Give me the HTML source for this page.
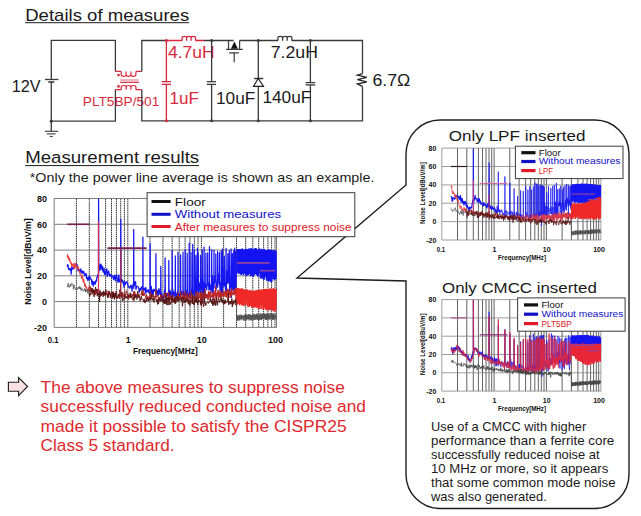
<!DOCTYPE html>
<html><head><meta charset="utf-8"><style>
html,body{margin:0;padding:0;background:#fff;overflow:hidden}
svg{display:block;font-family:"Liberation Sans",sans-serif}
</style></head><body>
<svg width="641" height="516" viewBox="0 0 641 516">
<rect width="641" height="516" fill="#fff"/>
<text x="25.2" y="20.6" font-size="17" fill="#1a1a1a" textLength="164.0" lengthAdjust="spacingAndGlyphs">Details of measures</text>
<line x1="25.10" y1="22.70" x2="189.20" y2="22.70" stroke="#1a1a1a" stroke-width="1.0" />
<path d="M115.4,71.5 V40.3 H51.3 V79.5 M51.3,82 V121.2 H115.4 V89.8" fill="none" stroke="#3a3a3a" stroke-width="1.3"/>
<line x1="45.00" y1="79.50" x2="58.40" y2="79.50" stroke="#3a3a3a" stroke-width="1.3" />
<line x1="48.30" y1="82.00" x2="54.30" y2="82.00" stroke="#3a3a3a" stroke-width="1.6" />
<text x="11.8" y="92.0" font-size="16.3" fill="#1a1a1a" textLength="28.8" lengthAdjust="spacingAndGlyphs">12V</text>
<line x1="51.30" y1="121.20" x2="51.30" y2="131.30" stroke="#3a3a3a" stroke-width="1.3" />
<line x1="44.80" y1="131.30" x2="58.20" y2="131.30" stroke="#3a3a3a" stroke-width="1.1" />
<line x1="46.80" y1="133.90" x2="55.60" y2="133.90" stroke="#3a3a3a" stroke-width="1.1" />
<line x1="49.90" y1="136.50" x2="52.70" y2="136.50" stroke="#3a3a3a" stroke-width="1.1" />
<circle cx="51.3" cy="121.2" r="1.6" fill="#3a3a3a"/>
<path d="M115.4,71.4 H121.2 M135.9,71.4 H141.8 M115.4,89.7 H121.2 M135.9,89.7 H141.8" fill="none" stroke="#d8283a" stroke-width="1.2"/>
<path d=" M121.20,71.40 V74.50 Q121.20,76.30 123.65,76.30 Q126.10,76.30 126.10,74.50 V71.40 M126.10,71.40 V74.50 Q126.10,76.30 128.55,76.30 Q131.00,76.30 131.00,74.50 V71.40 M131.00,71.40 V74.50 Q131.00,76.30 133.45,76.30 Q135.90,76.30 135.90,74.50 V71.40" fill="none" stroke="#d8283a" stroke-width="1.2"/>
<path d=" M121.20,89.70 V87.30 Q121.20,85.50 123.65,85.50 Q126.10,85.50 126.10,87.30 V89.70 M126.10,89.70 V87.30 Q126.10,85.50 128.55,85.50 Q131.00,85.50 131.00,87.30 V89.70 M131.00,89.70 V87.30 Q131.00,85.50 133.45,85.50 Q135.90,85.50 135.90,87.30 V89.70" fill="none" stroke="#d8283a" stroke-width="1.2"/>
<line x1="120.10" y1="80.00" x2="138.80" y2="80.00" stroke="#e27a8a" stroke-width="1.1" />
<line x1="120.10" y1="82.30" x2="138.80" y2="82.30" stroke="#d02838" stroke-width="1.2" />
<circle cx="118.5" cy="75.1" r="1.3" fill="#d8283a"/><circle cx="118.5" cy="86.4" r="1.3" fill="#d8283a"/>
<text x="82.8" y="106.2" font-size="12.3" fill="#d8283a" textLength="76.5" lengthAdjust="spacingAndGlyphs">PLT5BP/501</text>
<path d="M141.8,71.5 V40.5 H166.4" fill="none" stroke="#3a3a3a" stroke-width="1.3"/>
<path d="M141.8,89.8 V120.8 H362.5 V86.4 M362.5,73.6 V40.5 H291.9 M277.9,40.5 H239.6 M233.6,40.5 H204" fill="none" stroke="#3a3a3a" stroke-width="1.3"/>
<path d="M166.4,40.5 V81.7 M166.4,84.4 V120.8 M166.4,40.5 H182.1 M195.6,40.5 H204" fill="none" stroke="#d8283a" stroke-width="1.3"/>
<path d="M182.1,40.5 M182.1,40.8 V37.9 Q182.1,36.3 184.3,36.3 Q186.6,36.3 186.6,37.9 V40.8 M186.6,40.8 V37.9 Q186.6,36.3 188.8,36.3 Q191.1,36.3 191.1,37.9 V40.8 M191.1,40.8 V37.9 Q191.1,36.3 193.3,36.3 Q195.6,36.3 195.6,37.9 V40.8" fill="none" stroke="#d8283a" stroke-width="1.3"/>
<line x1="161.60" y1="81.70" x2="171.00" y2="81.70" stroke="#d8283a" stroke-width="1.3" />
<line x1="161.60" y1="84.40" x2="171.00" y2="84.40" stroke="#d8283a" stroke-width="1.3" />
<circle cx="166.4" cy="40.5" r="1.5" fill="#d8283a"/><circle cx="166.4" cy="120.8" r="1.5" fill="#d8283a"/>
<text x="167.9" y="57.7" font-size="16" fill="#d8283a" textLength="46.8" lengthAdjust="spacingAndGlyphs">4.7uH</text>
<text x="169.6" y="103.6" font-size="16" fill="#d8283a" textLength="29.4" lengthAdjust="spacingAndGlyphs">1uF</text>
<path d="M211.6,40.5 V81.7 M211.6,84.4 V120.8" fill="none" stroke="#3a3a3a" stroke-width="1.3"/>
<line x1="206.80" y1="81.70" x2="216.00" y2="81.70" stroke="#3a3a3a" stroke-width="1.3" />
<line x1="206.80" y1="84.40" x2="216.00" y2="84.40" stroke="#3a3a3a" stroke-width="1.3" />
<circle cx="211.6" cy="40.5" r="1.5" fill="#3a3a3a"/><circle cx="211.6" cy="120.8" r="1.5" fill="#3a3a3a"/>
<text x="216.0" y="103.6" font-size="16" fill="#1a1a1a" textLength="39.2" lengthAdjust="spacingAndGlyphs">10uF</text>
<path d="M228.5,40.5 V49 M239.6,40.5 V49 M226,49.3 H242.8 M229.2,52.9 H238.9 M234.2,52.9 V62.3" fill="none" stroke="#3a3a3a" stroke-width="1.2"/>
<path d="M234.4,41.4 L230.9,48.7 H237.9 Z" fill="#111"/>
<path d="M258.3,40.5 V78.5 M258.3,86.3 V120.8 M254.1,78.5 H263.3" fill="none" stroke="#3a3a3a" stroke-width="1.3"/>
<path d="M258.3,78.5 L253.5,86.3 H263.5 Z" fill="none" stroke="#222" stroke-width="1.2"/>
<circle cx="258.3" cy="40.5" r="1.5" fill="#3a3a3a"/><circle cx="258.3" cy="120.8" r="1.5" fill="#3a3a3a"/>
<path d="M277.9,40.5 M277.9,40.8 V37.9 Q277.9,36.3 280.2,36.3 Q282.6,36.3 282.6,37.9 V40.8 M282.6,40.8 V37.9 Q282.6,36.3 284.9,36.3 Q287.2,36.3 287.2,37.9 V40.8 M287.2,40.8 V37.9 Q287.2,36.3 289.6,36.3 Q291.9,36.3 291.9,37.9 V40.8" fill="none" stroke="#3a3a3a" stroke-width="1.3"/>
<text x="270.8" y="57.7" font-size="16" fill="#1a1a1a" textLength="47.1" lengthAdjust="spacingAndGlyphs">7.2uH</text>
<path d="M310.4,40.5 V82.6 M310.4,84.9 V120.8" fill="none" stroke="#3a3a3a" stroke-width="1.3"/>
<line x1="305.60" y1="82.60" x2="315.20" y2="82.60" stroke="#3a3a3a" stroke-width="1.3" />
<line x1="305.60" y1="84.90" x2="315.20" y2="84.90" stroke="#3a3a3a" stroke-width="1.3" />
<circle cx="310.4" cy="40.5" r="1.5" fill="#3a3a3a"/><circle cx="310.4" cy="120.8" r="1.5" fill="#3a3a3a"/>
<text x="262.4" y="103.3" font-size="15.8" fill="#1a1a1a" textLength="49.0" lengthAdjust="spacingAndGlyphs">140uF</text>
<path d="M362.5,73.6 L357.4,75.2 L366.8,77.4 L357.4,79.6 L366.8,81.8 L357.4,84 L362.5,86.4" fill="none" stroke="#222" stroke-width="1.3"/>
<text x="372.4" y="86.3" font-size="15.6" fill="#1a1a1a" textLength="38.0" lengthAdjust="spacingAndGlyphs">6.7Ω</text>
<path d="M406,185 V154 A34,34 0 0 1 440,120 H595 A34,34 0 0 1 629,154 V474.5 A34,34 0 0 1 595,508.5 H440 A34,34 0 0 1 406,474.5 V281 L297,278 L406,185 Z" fill="#fff" stroke="#1e1e1e" stroke-width="1.4" stroke-linejoin="miter"/>
<text x="25.2" y="163.4" font-size="16.3" fill="#1a1a1a" textLength="174.0" lengthAdjust="spacingAndGlyphs">Measurement results</text>
<line x1="25.20" y1="165.60" x2="199.00" y2="165.60" stroke="#1a1a1a" stroke-width="1.0" />
<text x="29.8" y="182.4" font-size="13.1" fill="#1a1a1a" textLength="344.6" lengthAdjust="spacingAndGlyphs">*Only the power line average is shown as an example.</text>
<path d="M76.4,198.5V327.4M89.3,198.5V327.4M98.5,198.5V327.4M105.6,198.5V327.4M111.5,198.5V327.4M116.4,198.5V327.4M120.7,198.5V327.4M124.4,198.5V327.4M150.0,198.5V327.4M162.9,198.5V327.4M172.1,198.5V327.4M179.2,198.5V327.4M185.1,198.5V327.4M190.0,198.5V327.4M194.3,198.5V327.4M198.0,198.5V327.4M223.6,198.5V327.4M236.5,198.5V327.4M245.7,198.5V327.4M252.8,198.5V327.4M258.7,198.5V327.4M263.6,198.5V327.4M267.9,198.5V327.4M271.6,198.5V327.4M127.8,198.5V327.4M201.4,198.5V327.4M275.0,198.5V327.4" stroke="#2c2c2c" stroke-width="0.95" stroke-dasharray="1.6,0.6" fill="none"/>
<path d="M54.2,301.6H276.5M54.2,275.8H276.5M54.2,250.1H276.5M54.2,224.3H276.5M54.2,198.5H276.5" stroke="#7c7c7c" stroke-width="1.0" fill="none"/>
<path d="M54.2,198.5V327.4H276.5V198.5" stroke="#7c7c7c" stroke-width="1.0" fill="none"/>
<path d="M67.2,266.8L67.6,264.6 68.1,265.3 68.5,269.1 69.0,269.1 69.4,270.0 69.9,268.3 70.3,270.0 70.8,268.9 71.2,274.2 71.7,267.0 72.1,269.7 72.6,267.6 73.0,268.7 73.5,268.6 73.9,266.4 74.4,265.1 74.8,266.5 75.3,265.9 75.7,263.7 76.2,266.2 76.6,267.6 77.1,264.7 77.5,267.5 78.0,270.7 78.4,269.3 78.9,269.4 79.3,271.5 79.8,272.6 80.2,270.1 80.7,268.9 81.1,271.5 81.6,272.9 82.0,271.1 82.5,270.9 82.9,273.3 83.4,272.1 83.8,271.5 84.3,274.3 84.7,275.9 85.2,274.1 85.6,274.7 86.1,273.4 86.5,278.4 87.0,277.6 87.4,278.4 87.9,280.5 88.3,277.3 88.8,276.9 89.2,279.8 89.7,276.2 90.1,277.8 90.6,278.8 91.0,279.8 91.5,279.3 91.9,284.3 92.4,281.1 92.8,281.3 93.3,286.1 93.7,282.2 94.2,283.6 94.6,281.8 95.1,284.4 95.5,282.5 96.0,280.4 96.4,281.4 96.9,277.2 97.3,277.2 97.8,274.7 98.2,275.2 98.5,273.2 98.6,199.0 98.8,272.0 98.7,273.0 99.1,270.0 99.6,267.3 100.0,264.8 100.5,269.8 100.9,264.0 101.4,265.6 101.8,267.5 102.3,270.1 102.7,266.5 103.2,272.2 103.6,269.5 104.1,268.4 104.5,274.3 105.0,272.1 105.4,274.4 105.9,271.7 106.3,269.5 106.8,268.8 107.2,276.5 107.7,274.4 108.1,272.3 108.6,270.9 109.0,273.4 109.5,276.0 109.9,274.2 110.4,275.1 110.8,275.8 111.3,277.1 111.7,275.2 112.2,275.6 112.6,276.7 113.1,277.2 113.5,279.5 114.0,278.2 114.4,275.2 114.9,278.1 115.3,280.8 115.8,275.7 116.2,277.5 116.7,274.7 117.1,278.9 117.6,280.1 118.0,282.3 118.5,277.2 118.9,275.0 119.4,281.9 119.8,281.8 120.3,279.6 120.7,281.0 120.8,219.4 121.0,281.5 120.7,281.7 121.2,280.9 121.6,279.4 122.1,281.7 122.5,280.2 123.0,283.1 123.4,281.8 123.9,286.9 124.3,285.8 124.8,281.7 125.2,284.6 125.7,282.6 126.1,282.9 126.6,281.6 127.0,282.9 127.5,282.7 127.9,285.2 128.4,286.8 128.8,287.1 129.3,286.6 129.7,288.3 130.2,287.0 130.6,285.9 131.1,285.2 131.5,286.8 132.0,291.1 132.4,286.4 132.9,285.8 133.3,283.7 133.6,286.6 133.7,229.6 133.9,288.3 133.8,288.5 134.2,281.6 134.7,285.0 135.1,282.3 135.6,281.7 136.0,289.4 136.5,286.5 136.9,286.4 137.4,286.3 137.8,286.5 138.3,287.5 138.7,287.7 139.2,292.1 139.6,288.8 140.1,290.4 140.5,288.3 141.0,290.0 141.4,287.3 141.9,286.8 142.3,288.3 142.8,288.3 142.8,289.2 142.9,237.0 143.1,290.3 143.2,289.7 143.7,290.6 144.1,288.4 144.6,289.5 145.0,288.1 145.5,293.1 145.9,287.5 146.4,291.9 146.8,291.9 147.3,290.6 147.7,291.6 148.2,289.5 148.6,291.9 149.1,293.2 149.5,292.8 150.0,290.7 150.1,243.7 150.3,290.5 150.0,293.7 150.4,290.8 150.9,294.9 151.3,286.4 151.8,295.0 152.2,290.0 152.7,289.9 153.1,295.2 153.6,290.8 154.0,289.1 154.5,290.6 154.9,291.2 155.4,289.6 155.8,292.1 155.9,253.6 156.1,291.2 155.8,292.4 156.3,290.6 156.7,294.8 157.2,290.4 157.6,293.9 158.1,295.5 158.5,291.8 159.0,288.5 159.4,290.5 159.9,294.5 160.3,291.4 160.7,293.3 160.8,266.4 161.0,293.7 160.8,293.1 161.2,299.4 161.7,293.1 162.1,296.3 162.6,295.6 163.0,297.7 163.5,297.9 163.9,296.5 164.4,292.0 164.8,289.9 165.0,294.2 165.1,257.8 165.3,291.4 165.3,294.9 165.7,299.2 166.2,294.0 166.6,293.3 167.1,295.6 167.5,293.8 168.0,293.1 168.4,296.9 168.7,294.7 168.8,260.6 169.0,295.3 168.9,295.3 169.3,295.7 169.8,292.3 170.2,290.5 170.7,296.0 171.1,293.2 171.6,292.7 172.0,293.3 172.1,295.2 172.2,250.6 172.4,296.2 172.5,293.3 172.9,289.9 173.4,293.0 173.8,296.7 174.3,293.5 174.7,291.8 175.2,295.0 175.3,255.8 175.5,296.5 175.2,291.0 175.6,298.2 176.1,293.7 176.5,295.0 177.0,298.0 177.4,291.8 177.9,294.0 177.9,294.9 178.0,252.3 178.2,293.3 178.3,296.0 178.8,299.7 179.2,296.6 179.7,294.1 180.1,293.1 180.5,294.8 180.6,254.9 180.8,294.6 180.6,293.5 181.0,295.3 181.5,291.7 181.9,294.3 182.4,293.9 182.8,293.2 182.9,294.6 183.0,252.1 183.2,296.5 183.3,290.7 183.7,293.7 184.2,295.3 184.6,293.7 185.1,295.8 185.1,294.5 185.2,249.5 185.4,296.2 185.5,293.7 186.0,298.4 186.4,290.8 186.9,295.5 187.1,294.1 187.2,253.1 187.4,294.7 187.3,295.0 187.8,293.6 188.2,296.8 188.7,292.8 189.1,293.7 189.2,243.1 189.4,297.0 189.1,292.8 189.6,294.4 190.0,293.0 190.5,298.1 190.9,293.3 191.0,252.3 191.2,292.1 190.9,293.4 191.4,289.0 191.8,294.9 192.3,292.6 192.6,292.9 192.7,244.4 192.9,294.9 192.7,295.3 193.2,292.9 193.6,292.9 194.1,290.5 194.3,292.6 194.4,249.8 194.6,297.0 194.5,291.2 195.0,276.9 195.4,284.6 195.8,291.8 195.9,255.4 196.1,292.6 195.9,296.8 196.3,287.9 196.8,292.3 197.2,279.8 197.3,290.9 197.4,248.3 197.6,285.8 197.7,289.7 198.1,290.7 198.2,252.8 198.4,283.0 198.6,292.3 199.0,282.6 199.5,288.7 199.9,290.0 200.4,293.9 200.5,255.4 200.6,293.0 200.8,277.2 201.3,282.9 201.7,285.4 202.2,289.7 202.3,249.9 202.4,286.0 202.6,302.7 203.1,289.6 203.5,285.0 204.0,278.6 204.1,247.1 204.2,279.7 204.4,300.6 204.9,284.4 205.3,287.4 205.8,281.8 205.9,253.1 206.0,286.2 206.2,284.7 206.7,289.7 207.1,285.0 207.6,284.2 207.7,252.8 207.8,285.1 208.0,282.4 208.5,283.7 208.9,289.7 209.4,289.8 209.5,246.5 209.6,286.9 209.8,283.9 210.3,289.4 210.7,290.3 211.2,285.1 211.6,284.2 211.7,249.8 211.9,293.0 212.1,286.1 212.5,276.1 213.0,299.0 213.4,282.6 213.9,288.1 214.0,250.0 214.1,287.9 214.3,275.8 214.8,282.2 215.2,281.4 215.7,281.7 215.8,253.8 215.9,280.5 216.1,289.9 216.6,284.2 217.0,285.4 217.5,278.2 217.6,251.5 217.7,287.3 217.9,276.4 218.4,274.2 218.8,278.7 219.3,283.6 219.4,252.7 219.5,284.8 219.7,281.8 220.2,292.9 220.6,282.5 221.1,292.1 221.2,250.8 221.3,290.6 221.5,281.0 222.0,282.2 222.4,293.3 222.5,248.9 222.7,266.1 222.9,268.4 223.3,286.0 223.8,284.5 224.2,282.1 224.3,256.0 224.5,271.7 224.7,286.1 225.1,282.7 225.6,291.3 226.0,283.0 226.1,248.3 226.3,292.7 226.5,279.4 226.9,272.9 227.4,270.7 227.8,283.4 227.9,253.7 228.1,277.0 228.3,282.3 228.7,272.3 229.2,267.9 229.3,250.5 229.4,281.2 229.6,293.2 230.1,279.8 230.5,287.1 231.0,262.6 231.1,249.0 231.2,278.5 231.4,297.3 231.9,274.3 232.3,267.7 232.4,253.7 232.6,274.4 232.8,290.1 233.2,272.4 233.7,269.4 233.8,250.6 233.9,279.4 234.1,289.8 234.6,278.1 234.7,248.0 234.8,287.6 235.0,281.7 235.5,293.4 235.6,251.7 235.7,285.5 235.9,286.8 236.4,271.0" stroke="#1616f2" stroke-width="1.25" fill="none" stroke-linejoin="round"/>
<path d="M236.4,271.0L236.8,272.2 237.0,249.2 237.3,272.8 237.5,249.2 237.7,270.9 237.9,249.0 238.2,273.6 238.4,250.3 238.6,271.2 238.8,249.7 239.1,273.9 239.3,249.0 239.5,271.8 239.7,250.0 240.0,272.5 240.2,249.1 240.4,274.3 240.6,249.6 240.9,272.9 241.1,249.7 241.3,274.8 241.5,250.0 241.8,274.5 242.0,248.8 242.2,274.0 242.4,248.6 242.7,273.1 242.9,250.2 243.1,271.1 243.3,249.6 243.6,275.2 243.8,250.3 244.0,273.9 244.2,250.2 244.5,272.5 244.7,249.6 244.9,271.0 245.1,249.5 245.4,274.6 245.6,249.7 245.8,272.6 246.0,248.7 246.3,276.2 246.5,249.1 246.7,273.3 246.9,249.6 247.2,273.6 247.4,249.1 247.6,275.4 247.8,249.2 248.1,273.1 248.3,250.2 248.5,274.8 248.7,248.6 249.0,272.4 249.2,249.1 249.4,273.5 249.6,249.8 249.9,273.4 250.1,248.4 250.3,276.3 250.5,249.8 250.8,275.8 251.0,248.8 251.2,272.8 251.4,248.8 251.7,275.2 251.9,248.3 252.1,275.3 252.3,248.9 252.6,276.8 252.8,249.0 253.0,272.3 253.2,249.4 253.5,277.0 253.7,249.5 253.9,273.3 254.1,249.8 254.4,274.7 254.6,248.5 254.8,274.4 255.0,248.5 255.3,272.4 255.5,248.4 255.7,273.8 255.9,248.6 256.2,274.4 256.4,248.5 256.6,274.9 256.8,249.2 257.1,274.4 257.3,249.9 257.5,276.4 257.7,250.8 258.0,275.8 258.2,250.1 258.4,275.8 258.6,249.4 258.9,272.7 259.1,248.5 259.3,273.3 259.5,248.8 259.8,273.0 260.0,251.6 260.2,277.6 260.4,251.3 260.7,277.1 260.9,249.4 261.1,278.8 261.3,248.8 261.6,277.3 261.8,250.6 262.0,275.5 262.2,249.2 262.5,278.5 262.7,250.4 262.9,274.6 263.1,251.1 263.4,276.8 263.6,250.9 263.8,279.9 264.0,248.9 264.3,275.3 264.5,249.1 264.7,279.3 264.9,250.8 265.2,276.3 265.4,250.0 265.6,276.1 265.8,251.0 266.1,277.1 266.3,250.2 266.5,280.4 266.7,250.4 267.0,280.4 267.2,250.8 267.4,275.9 267.6,250.5 267.9,280.9 268.1,249.5 268.3,277.6 268.5,251.1 268.8,281.5 269.0,249.6 269.2,280.0 269.4,250.0 269.7,280.4 269.9,249.7 270.1,280.8 270.3,250.1 270.6,281.8 270.8,250.4 271.0,282.2 271.2,250.1 271.5,275.2 271.7,250.3 271.9,281.6 272.1,251.6 272.4,276.0 272.6,252.0 272.8,279.1 273.0,249.9 273.3,275.2 273.5,250.4 273.7,279.3 273.9,250.2 274.2,275.4 274.4,252.9 274.6,280.2 274.8,250.3 275.1,279.4 275.3,251.5 275.5,278.6 275.7,251.5 276.0,278.9 276.2,251.0" stroke="#1616f2" stroke-width="1.00" fill="none" stroke-linejoin="round"/>
<path d="M67.2,257.1L67.6,254.6 68.1,258.7 68.5,256.3 69.0,260.6 69.4,258.1 69.9,260.1 70.3,261.8 70.8,263.4 71.2,262.3 71.7,266.6 72.1,264.7 72.6,265.4 73.0,264.0 73.5,267.7 73.9,263.2 74.4,267.0 74.8,268.7 75.3,264.1 75.7,263.2 76.2,266.0 76.6,267.4 77.1,266.7 77.5,268.6 78.0,268.7 78.4,266.8 78.9,270.0 79.3,271.6 79.8,272.4 80.2,274.3 80.7,274.0 81.1,275.1 81.6,278.2 82.0,278.5 82.5,275.8 82.9,280.2 83.4,282.3 83.8,279.4 84.3,283.5 84.7,286.1 85.2,283.8 85.6,287.2 86.1,287.2 86.5,286.6 87.0,288.1 87.4,289.9 87.9,289.9 88.3,290.4 88.8,287.1 89.2,291.4" stroke="#e84040" stroke-width="1.10" fill="none" stroke-linejoin="round"/>
<path d="M89.2,291.4L89.7,291.4 90.1,286.2 90.6,291.8 91.0,287.8 91.5,288.4 91.9,291.7 92.4,294.5 92.8,290.9 93.3,290.7 93.7,290.3 94.2,292.4 94.6,290.2 95.1,289.8 95.5,294.9 96.0,289.8 96.4,292.5 96.9,294.1 97.3,293.6 97.8,289.1 98.2,291.0 98.5,293.1 98.6,294.8 98.8,292.9 98.7,293.4 99.1,293.5 99.6,294.3 100.0,296.3 100.5,291.5 100.9,295.3 101.4,294.2 101.8,294.7 102.3,295.0 102.7,292.0 103.2,292.8 103.6,295.0 104.1,295.7 104.5,294.7 105.0,291.8 105.4,293.6 105.9,293.4 106.3,294.6 106.8,294.5 107.2,293.5 107.7,297.8 108.1,290.7 108.6,295.7 109.0,295.3 109.5,291.3 109.9,293.7 110.4,294.1 110.8,295.4 111.3,297.4 111.7,293.9 112.2,291.8 112.6,296.1 113.1,291.5 113.5,296.7 114.0,295.9 114.4,293.4 114.9,294.4 115.3,293.0 115.8,296.0 116.2,296.6 116.7,298.4 117.1,297.0 117.6,296.8 118.0,297.5 118.5,294.0 118.9,296.0 119.4,298.8 119.8,289.6 120.3,296.5 120.7,294.8 120.8,293.7 121.0,292.2 120.7,292.4 121.2,297.2 121.6,297.9 122.1,296.9 122.5,292.5 123.0,295.5 123.4,296.6 123.9,295.0 124.3,292.5 124.8,297.9 125.2,295.8 125.7,297.9 126.1,290.6 126.6,291.4 127.0,293.2 127.5,295.4 127.9,293.8 128.4,299.5 128.8,294.7 129.3,298.0 129.7,298.0 130.2,296.8 130.6,296.1 131.1,294.2 131.5,293.9 132.0,294.9 132.4,297.4 132.9,294.1 133.3,295.7 133.6,295.5 133.7,291.6 133.9,297.4 133.8,301.2 134.2,296.5 134.7,291.1 135.1,294.6 135.6,296.0 136.0,293.8 136.5,294.6 136.9,294.8 137.4,296.8 137.8,295.6 138.3,295.4 138.7,297.1 139.2,298.1 139.6,295.6 140.1,293.9 140.5,294.6 141.0,294.9 141.4,294.9 141.9,290.7 142.3,295.5 142.8,293.9 142.8,296.0 142.9,289.9 143.1,295.9 143.2,295.5 143.7,293.9 144.1,292.6 144.6,295.5 145.0,295.4 145.5,296.0 145.9,298.7 146.4,293.9 146.8,296.8 147.3,299.9 147.7,296.6 148.2,299.9 148.6,298.5 149.1,296.4 149.5,298.3 150.0,296.5 150.1,291.4 150.3,299.5 150.0,295.9 150.4,295.3 150.9,293.5 151.3,294.7 151.8,296.1 152.2,296.5 152.7,296.8 153.1,294.4 153.6,298.2 154.0,295.8 154.5,297.1 154.9,296.4 155.4,297.5 155.8,297.0 155.9,289.2 156.1,298.4 155.8,296.5 156.3,296.5 156.7,295.9 157.2,296.2 157.6,296.3 158.1,295.2 158.5,300.4 159.0,297.3 159.4,299.9 159.9,296.9 160.3,299.9 160.7,297.5 160.8,295.0 161.0,297.6 160.8,294.6 161.2,296.4 161.7,297.0 162.1,294.8 162.6,299.6 163.0,302.0 163.5,298.6 163.9,298.3 164.4,295.2 164.8,293.4 165.0,297.8 165.1,295.6 165.3,292.7 165.3,294.6 165.7,296.1 166.2,297.1 166.6,292.9 167.1,297.7 167.5,298.9 168.0,297.6 168.4,300.8 168.7,298.0 168.8,292.1 169.0,298.2 168.9,297.3 169.3,297.2 169.8,300.2 170.2,295.3 170.7,300.1 171.1,296.2 171.6,301.4 172.0,297.3 172.1,298.1 172.2,294.5 172.4,298.0 172.5,299.4 172.9,302.6 173.4,300.4 173.8,298.0 174.3,296.9 174.7,301.2 175.2,298.2 175.3,296.9 175.5,300.0 175.2,298.6 175.6,299.5 176.1,299.9 176.5,296.5 177.0,296.3 177.4,296.8 177.9,300.2 177.9,298.3 178.0,292.6 178.2,298.7 178.3,301.3 178.8,296.5 179.2,298.2 179.7,299.4 180.1,295.4 180.5,298.4 180.6,291.2 180.8,296.6 180.6,295.9 181.0,296.8 181.5,300.9 181.9,299.1 182.4,296.2 182.8,299.8 182.9,298.3 183.0,292.6 183.2,297.4 183.3,295.3 183.7,295.6 184.2,296.4 184.6,298.6 185.1,296.3 185.1,298.2 185.2,291.5 185.4,298.5 185.5,295.4 186.0,297.2 186.4,299.7 186.9,295.5 187.1,298.2 187.2,293.0 187.4,296.9 187.3,301.3 187.8,298.2 188.2,300.1 188.7,300.1 189.1,298.1 189.2,296.2 189.4,293.7 189.1,298.4 189.6,297.6 190.0,295.8 190.5,298.3 190.9,298.1 191.0,291.4 191.2,300.8 190.9,297.6 191.4,298.9 191.8,297.0 192.3,297.6 192.6,298.0 192.7,295.1 192.9,301.8 192.7,300.1 193.2,296.5 193.6,297.1 194.1,297.1 194.3,298.0 194.4,296.3 194.6,303.5 194.5,299.2 195.0,298.6 195.4,299.2 195.8,297.9 195.9,291.6 196.1,298.3 195.9,300.3 196.3,299.7 196.8,297.6 197.2,297.7 197.3,297.9 197.4,292.4 197.6,293.2 197.7,298.4 198.1,297.6 198.6,299.9 198.7,297.8 198.8,292.9 199.0,296.7 199.0,296.6 199.5,298.1 199.9,297.0 200.1,297.8 200.2,292.1 200.4,301.7 200.4,304.5 200.8,293.0 201.3,296.0 201.4,297.8 201.5,292.3 201.7,301.3 201.7,300.3 202.2,294.9 202.6,303.4 202.7,297.6 202.8,292.8 203.0,295.8 203.1,297.3 203.5,296.0 203.9,297.5 204.0,292.4 204.2,292.5 204.0,299.6 204.4,300.2 204.9,296.8 205.0,297.3 205.1,289.3 205.3,297.4 205.3,295.1 205.8,298.3 206.1,297.2 206.2,294.4 206.4,294.3 206.2,294.0 206.7,294.0 207.1,298.0 207.2,297.1 207.3,294.3 207.5,299.5" stroke="#a42222" stroke-width="1.00" fill="none" stroke-linejoin="round"/>
<path d="M207.1,298.0L207.2,297.1 207.3,294.3 207.5,299.5 207.6,297.5 208.0,295.8 208.3,297.0 208.4,291.0 208.6,299.9 208.5,296.5 208.9,296.8 209.3,296.8 209.4,291.8 209.6,296.9 209.4,297.2 209.8,295.6 210.3,296.5 210.3,296.7 210.4,291.5 210.6,298.1 210.7,295.9 211.2,296.9 211.2,296.6 211.3,296.0 211.5,295.6 211.6,297.1 212.1,294.6 212.2,296.5 212.3,292.2 212.5,296.7 212.5,296.0 213.0,296.4 213.1,296.4 213.2,292.8 213.4,300.1 213.4,292.6 213.9,299.6 213.9,296.3 214.0,292.5 214.2,294.9 214.3,295.5 214.8,295.0 214.8,296.2 214.9,290.4 215.1,293.6 215.2,295.5 215.6,296.1 215.7,286.2 215.9,298.2 215.7,295.6 216.1,296.8 216.4,296.0 216.5,292.9 216.7,295.4 216.6,293.0 217.0,297.4 217.2,295.9 217.3,293.2 217.5,294.4 217.5,294.8 217.9,291.8 218.0,295.8 218.1,289.8 218.3,295.3 218.4,296.5 218.7,295.7 218.8,291.3 219.0,296.1 218.8,298.5 219.3,295.7 219.5,295.7 219.6,292.1 219.8,296.1 219.7,296.5 220.2,292.1 220.2,295.6 220.3,290.4 220.5,293.6 220.6,296.8 220.9,295.5 221.0,293.7 221.2,296.1 221.1,295.0 221.5,296.1 221.6,295.4 221.7,292.0 221.9,293.4 222.0,294.7 222.3,295.3 222.4,293.6 222.6,296.2 222.4,296.7 222.9,294.9 222.9,295.3 223.0,293.9 223.2,295.6 223.3,293.8 223.6,295.2 223.7,291.6 223.9,297.1 223.8,296.4 224.2,295.0 224.3,291.4 224.5,294.1 224.2,293.3 224.7,295.3 224.8,294.9 224.9,294.1 225.1,292.0 225.1,294.3 225.4,294.8 225.5,290.8 225.7,294.2 225.6,296.9 226.0,295.3 226.0,294.7 226.1,291.1 226.3,292.6 226.5,294.5 226.6,294.6 226.7,297.6 226.9,295.1 226.9,293.8 227.2,294.5 227.3,289.0 227.5,293.0 227.4,289.3 227.7,294.3 227.8,288.8 228.0,291.6 227.8,292.4 228.3,297.1 228.3,294.2 228.4,289.9 228.6,293.0 228.7,295.2 228.8,294.1 228.9,290.4 229.1,293.3 229.2,295.0 229.4,294.0 229.5,291.7 229.7,294.6 229.6,293.5 229.9,293.9 230.0,292.3 230.2,292.8 230.1,297.8 230.4,293.8 230.5,292.0 230.7,297.3 230.5,294.8 230.9,293.7 231.0,290.4 231.2,293.7 231.0,293.9 231.4,293.5 231.4,293.6 231.5,288.4 231.7,295.9 231.9,291.7 231.9,293.5 232.0,294.3 232.2,294.5 232.3,293.1 232.4,293.4 232.5,293.1 232.7,293.0 232.8,291.8 232.9,293.3 233.0,293.7 233.2,293.5 233.2,294.0 233.4,293.2 233.5,295.1 233.7,293.6 233.7,294.8 233.9,293.1 234.0,288.8 234.2,294.9 234.1,289.6 234.3,293.0 234.4,292.4 234.6,289.0 234.6,291.9 234.8,292.9 234.9,290.5 235.1,291.3 235.0,291.0 235.2,292.9 235.3,288.6 235.5,289.3 235.5,293.5 235.7,292.8 235.8,293.7 236.0,298.3 235.9,293.5 236.1,292.7 236.2,289.8 236.4,291.9 236.4,292.4" stroke="#c02828" stroke-width="1.00" fill="none" stroke-linejoin="round"/>
<path d="M236.4,292.4L236.8,304.4 237.0,288.3 237.3,304.7 237.5,288.1 237.7,300.0 237.9,288.6 238.2,301.0 238.4,288.0 238.6,303.8 238.8,288.3 239.1,302.5 239.3,289.4 239.5,305.2 239.7,289.4 240.0,298.1 240.2,288.7 240.4,304.0 240.6,288.9 240.9,302.7 241.1,291.5 241.3,305.4 241.5,288.8 241.8,301.4 242.0,288.5 242.2,302.5 242.4,288.6 242.7,305.3 242.9,289.3 243.1,305.2 243.3,289.7 243.6,303.8 243.8,289.4 244.0,305.6 244.2,289.8 244.5,305.7 244.7,290.7 244.9,304.9 245.1,290.5 245.4,304.0 245.6,290.6 245.8,304.3 246.0,289.5 246.3,299.8 246.5,290.3 246.7,300.5 246.9,291.8 247.2,305.3 247.4,289.6 247.6,305.6 247.8,290.8 248.1,307.2 248.3,291.1 248.5,305.0 248.7,290.6 249.0,303.1 249.2,290.4 249.4,306.7 249.6,290.0 249.9,305.9 250.1,291.1 250.3,306.0 250.5,290.3 250.8,303.4 251.0,291.0 251.2,303.3 251.4,292.9 251.7,307.7 251.9,290.5 252.1,303.3 252.3,292.4 252.6,307.0 252.8,291.5 253.0,305.6 253.2,291.4 253.5,305.5 253.7,290.8 253.9,307.8 254.1,291.1 254.4,301.5 254.6,291.5 254.8,307.4 255.0,290.5 255.3,307.2 255.5,290.8 255.7,306.4 255.9,291.3 256.2,306.0 256.4,290.2 256.6,307.6 256.8,291.3 257.1,303.9 257.3,290.2 257.5,306.0 257.7,292.7 258.0,308.6 258.2,290.2 258.4,307.7 258.6,292.3 258.9,306.0 259.1,290.0 259.3,306.7 259.5,289.9 259.8,309.1 260.0,291.1 260.2,304.7 260.4,289.6 260.7,304.3 260.9,290.2 261.1,308.9 261.3,290.6 261.6,301.1 261.8,289.6 262.0,305.9 262.2,290.0 262.5,303.7 262.7,289.6 262.9,309.6 263.1,290.5 263.4,307.0 263.6,289.5 263.8,308.7 264.0,291.4 264.3,306.5 264.5,289.2 264.7,306.7 264.9,290.3 265.2,309.2 265.4,289.1 265.6,307.4 265.8,291.5 266.1,309.9 266.3,288.9 266.5,306.9 266.7,289.6 267.0,310.3 267.2,289.2 267.4,308.1 267.6,290.8 267.9,308.2 268.1,289.2 268.3,310.4 268.5,289.0 268.8,309.9 269.0,288.5 269.2,309.2 269.4,290.9 269.7,308.5 269.9,290.2 270.1,310.0 270.3,288.6 270.6,310.4 270.8,290.2 271.0,307.4 271.2,288.8 271.5,308.9 271.7,289.6 271.9,308.8 272.1,291.9 272.4,310.4 272.6,289.5 272.8,307.8 273.0,288.5 273.3,311.3 273.5,288.1 273.7,305.9 273.9,288.5 274.2,309.7 274.4,289.6 274.6,309.7 274.8,289.5 275.1,311.9 275.3,289.6 275.5,304.8 275.7,288.7 276.0,309.9 276.2,289.6" stroke="#f02828" stroke-width="1.00" fill="none" stroke-linejoin="round"/>
<path d="M67.2,285.8L67.6,287.1 68.1,283.4 68.5,285.1 69.0,287.4 69.4,287.3 69.9,286.3 70.3,284.1 70.8,286.4 71.2,284.9 71.7,283.4 72.1,284.1 72.6,284.0 73.0,284.4 73.5,289.3 73.9,284.7 74.4,286.3 74.8,287.2 75.3,289.0 75.7,289.9 76.2,289.2 76.6,287.6 77.1,289.6 77.5,289.2 78.0,289.0 78.4,286.9 78.9,288.7 79.3,288.6 79.8,286.2 80.2,289.1 80.7,287.7 81.1,290.6 81.6,288.4 82.0,288.9 82.5,289.0 82.9,290.2 83.4,291.3 83.8,290.2 84.3,290.6 84.7,288.2 85.2,288.5 85.6,292.2 86.1,289.3 86.5,291.3 87.0,289.8 87.4,291.5 87.9,293.3 88.3,289.3 88.8,290.4 89.2,293.3" stroke="#505050" stroke-width="0.80" fill="none" stroke-linejoin="round"/>
<path d="M89.2,293.3L89.7,296.3 90.1,292.9 90.6,294.7 91.0,292.7 91.5,290.3 91.9,288.2 92.4,293.1 92.8,288.7 93.3,289.4 93.7,293.7 94.2,297.0 94.6,290.6 95.1,291.3 95.5,287.0 96.0,289.5 96.4,291.3 96.9,289.1 97.3,296.2 97.8,293.2 98.2,294.5 98.7,289.4 99.1,292.5 99.6,301.9 100.0,290.5 100.5,296.4 100.9,292.1 101.4,295.4 101.8,293.6 102.3,292.6 102.7,293.8 103.2,296.8 103.6,290.8 104.1,293.4 104.5,294.5 105.0,292.7 105.4,295.9 105.9,289.7 106.3,294.0 106.8,293.7 107.2,293.8 107.7,297.1 108.1,297.8 108.6,294.3 109.0,294.0 109.5,291.5 109.9,293.8 110.4,297.8 110.8,293.7 111.3,293.0 111.7,292.6 112.2,294.3 112.6,298.4 113.1,292.3 113.5,297.3 114.0,293.9 114.4,299.5 114.9,293.6 115.3,297.6 115.8,292.8 116.2,291.1 116.7,292.7 117.1,298.8 117.6,298.3 118.0,298.1 118.5,294.2 118.9,295.1 119.4,295.7 119.8,295.3 120.3,294.7 120.7,294.5 121.2,291.9 121.6,296.5 122.1,295.9 122.5,301.2 123.0,299.9 123.4,298.3 123.9,299.7 124.3,296.1 124.8,294.0 125.2,297.9 125.7,298.1 126.1,298.2 126.6,296.6 127.0,298.4 127.5,295.9 127.9,296.3 128.4,296.3 128.8,295.2 129.3,297.1 129.7,296.9 130.2,292.8 130.6,297.5 131.1,295.3 131.5,297.3 132.0,298.7 132.4,298.7 132.9,299.7 133.3,297.6 133.8,299.2 134.2,298.8 134.7,294.6 135.1,298.1 135.6,294.8 136.0,297.1 136.5,295.6 136.9,299.5 137.4,297.6 137.8,291.2 138.3,295.9 138.7,295.5 139.2,297.5 139.6,295.9 140.1,301.2 140.5,300.4 141.0,297.2 141.4,296.2 141.9,299.4 142.3,298.9 142.8,299.4 143.2,299.0 143.7,301.6 144.1,302.2 144.6,298.8 145.0,303.1 145.5,301.2 145.9,300.4 146.4,301.5 146.8,298.2 147.3,300.0 147.7,299.1 148.2,301.5 148.6,300.9 149.1,297.7 149.5,298.1 150.0,300.3 150.4,298.2 150.9,298.7 151.3,298.8 151.8,295.2 152.2,300.4 152.7,298.3 153.1,298.3 153.6,300.1 154.0,302.5 154.5,297.8 154.9,298.9 155.4,299.5 155.8,299.7 156.3,299.7 156.7,302.1 157.2,299.1 157.6,304.5 158.1,300.0 158.5,303.9 159.0,301.0 159.4,298.2 159.9,300.8 160.3,301.4 160.8,298.9 161.2,301.0 161.7,301.4 162.1,301.4 162.6,296.5 163.0,298.8 163.5,299.2 163.9,303.6 164.4,298.9 164.8,303.9 165.3,299.3 165.7,303.4 166.2,295.6 166.6,304.9 167.1,297.5 167.5,298.6 168.0,305.2 168.4,301.3 168.9,297.0 169.3,297.8 169.8,305.0 170.2,302.1 170.7,303.8 171.1,303.4 171.6,302.4 172.0,296.0 172.5,300.5 172.9,301.4 173.4,301.7 173.8,299.1 174.3,299.1 174.7,303.3 175.2,297.1 175.6,303.7 176.1,301.7 176.5,299.8 177.0,296.6 177.4,301.9 177.9,300.3 178.3,297.7 178.8,299.4 179.2,298.1 179.7,298.4 180.1,300.4 180.6,299.5 181.0,298.7 181.5,301.2 181.9,297.0 182.4,306.3 182.8,303.5 183.3,297.5 183.7,300.1 184.2,302.9 184.6,300.3 185.1,298.4 185.5,302.7 186.0,299.3 186.4,301.6 186.9,301.6 187.3,301.5 187.8,298.5 188.2,304.2 188.7,302.3 189.1,299.7 189.6,304.5 190.0,305.5 190.5,300.0 190.9,301.4 191.4,301.8 191.8,301.1 192.3,304.0 192.7,294.0 193.2,304.0 193.6,302.6 194.1,305.2 194.5,302.6 195.0,297.6 195.4,301.5 195.9,300.1 196.3,302.9 196.8,297.0 197.2,301.2 197.7,304.9 198.1,299.7 198.6,302.6 199.0,300.1 199.5,301.4 199.9,301.1 200.4,301.4 200.8,304.1 201.3,305.7 201.7,299.3 202.2,302.1 202.6,301.0 203.1,303.0 203.5,307.0 204.0,305.1 204.4,298.2 204.9,303.8 205.3,302.8 205.8,305.6 206.2,303.1 206.7,302.7 207.1,302.4 207.6,302.0 208.0,303.4 208.5,303.3 208.9,301.8 209.4,301.0 209.8,302.2 210.3,297.3 210.7,301.3 211.2,301.4 211.6,303.5 212.1,299.1 212.5,304.4 213.0,306.0 213.4,304.3 213.9,300.2 214.3,304.7 214.8,298.5 215.2,301.9 215.7,305.7 216.1,302.4 216.6,297.2 217.0,304.0 217.5,305.2 217.9,300.5 218.4,298.4 218.8,299.2 219.3,302.7 219.7,301.3 220.2,301.0 220.6,298.8 221.1,296.3 221.5,302.1 222.0,298.5 222.4,302.7 222.9,300.3 223.3,304.2 223.8,303.8 224.2,300.7 224.7,304.1 225.1,299.5 225.6,303.2 226.0,301.6 226.5,302.0 226.9,302.7 227.4,301.5 227.8,299.0 228.3,293.8 228.7,304.9 229.2,301.0 229.6,302.3 230.1,304.2 230.5,301.1 231.0,304.1 231.4,302.0 231.9,298.6 232.3,307.0 232.8,301.2 233.2,300.7 233.7,304.3 234.1,300.5 234.6,300.9 235.0,302.7 235.5,298.7 235.9,305.2 236.4,300.1" stroke="#561616" stroke-width="1.00" fill="none" stroke-linejoin="round"/>
<path d="M236.4,300.1L236.8,320.5 237.0,316.2 237.3,320.5 237.5,315.1 237.7,319.8 237.9,316.9 238.2,320.5 238.4,315.2 238.6,318.6 238.8,316.2 239.1,319.3 239.3,317.2 239.5,320.4 239.7,314.7 240.0,320.4 240.2,315.5 240.4,317.7 240.6,316.8 240.9,318.9 241.1,314.5 241.3,319.3 241.5,315.5 241.8,319.5 242.0,315.5 242.2,318.8 242.4,315.9 242.7,317.8 242.9,315.8 243.1,320.4 243.3,315.6 243.6,317.6 243.8,318.0 244.0,320.6 244.2,315.0 244.5,318.3 244.7,314.6 244.9,320.5 245.1,315.1 245.4,319.6 245.6,314.6 245.8,319.6 246.0,314.8 246.3,320.5 246.5,314.7 246.7,318.3 246.9,316.4 247.2,319.0 247.4,315.2 247.6,319.4 247.8,314.6 248.1,318.1 248.3,314.9 248.5,319.1 248.7,314.0 249.0,320.5 249.2,314.3 249.4,318.9 249.6,315.7 249.9,319.7 250.1,314.3 250.3,317.9 250.5,314.9 250.8,320.3 251.0,315.0 251.2,319.8 251.4,315.4 251.7,320.4 251.9,315.0 252.1,316.0 252.3,315.7 252.6,318.0 252.8,314.1 253.0,320.0 253.2,315.7 253.5,320.2 253.7,315.6 253.9,316.9 254.1,314.0 254.4,319.8 254.6,314.1 254.8,318.1 255.0,314.5 255.3,319.9 255.5,315.9 255.7,318.7 255.9,314.8 256.2,318.5 256.4,314.1 256.6,319.5 256.8,313.7 257.1,318.2 257.3,313.8 257.5,319.6 257.7,314.4 258.0,320.1 258.2,316.5 258.4,320.2 258.6,315.5 258.9,317.3 259.1,314.7 259.3,320.1 259.5,315.5 259.8,319.2 260.0,313.3 260.2,318.0 260.4,313.7 260.7,319.6 260.9,315.3 261.1,320.1 261.3,314.9 261.6,319.8 261.8,313.9 262.0,319.2 262.2,313.7 262.5,318.6 262.7,313.7 262.9,318.5 263.1,313.9 263.4,318.8 263.6,314.3 263.8,319.0 264.0,313.8 264.3,318.0 264.5,313.4 264.7,318.2 264.9,315.1 265.2,319.9 265.4,314.0 265.6,319.5 265.8,314.7 266.1,319.8 266.3,313.9 266.5,319.9 266.7,313.2 267.0,319.4 267.2,313.7 267.4,318.1 267.6,314.0 267.9,319.4 268.1,313.6 268.3,319.8 268.5,317.0 268.8,318.2 269.0,313.0 269.2,318.8 269.4,314.9 269.7,319.3 269.9,315.6 270.1,319.7 270.3,312.9 270.6,316.5 270.8,315.7 271.0,317.4 271.2,313.0 271.5,318.3 271.7,313.2 271.9,319.5 272.1,314.5 272.4,319.6 272.6,314.3 272.8,319.6 273.0,313.3 273.3,319.4 273.5,313.4 273.7,319.5 273.9,314.8 274.2,317.9 274.4,315.2 274.6,319.7 274.8,315.2 275.1,318.0 275.3,314.6 275.5,317.7 275.7,313.7 276.0,319.5 276.2,316.7" stroke="#505050" stroke-width="0.70" fill="none" stroke-linejoin="round"/>
<path d="M98.5,293.1V221.7" stroke="#d03050" stroke-width="1.30"/>
<path d="M120.7,294.8V247.5" stroke="#a02848" stroke-width="1.30"/>
<path d="M67.2,224.3H89.3" stroke="#7a2050" stroke-width="1.6" fill="none"/>
<path d="M107.5,248.1H146.6" stroke="#7a2050" stroke-width="1.6" fill="none"/>
<path d="M236.9,262.9H269.6" stroke="#9040a0" stroke-width="1.6" fill="none"/>
<path d="M259.7,270.7H275.0" stroke="#9040a0" stroke-width="1.6" fill="none"/>
<text x="47.1" y="201.8" font-size="9.00" fill="#111" font-weight="bold" text-anchor="end">80</text>
<text x="47.1" y="227.6" font-size="9.00" fill="#111" font-weight="bold" text-anchor="end">60</text>
<text x="47.1" y="253.4" font-size="9.00" fill="#111" font-weight="bold" text-anchor="end">40</text>
<text x="47.1" y="279.1" font-size="9.00" fill="#111" font-weight="bold" text-anchor="end">20</text>
<text x="47.1" y="304.9" font-size="9.00" fill="#111" font-weight="bold" text-anchor="end">0</text>
<text x="47.1" y="330.7" font-size="9.00" fill="#111" font-weight="bold" text-anchor="end">-20</text>
<text x="53.2" y="342.5" font-size="9.00" fill="#111" font-weight="bold" text-anchor="middle" textLength="10.8" lengthAdjust="spacingAndGlyphs">0.1</text>
<text x="128.2" y="342.5" font-size="9.00" fill="#111" font-weight="bold" text-anchor="middle">1</text>
<text x="201.8" y="342.5" font-size="9.00" fill="#111" font-weight="bold" text-anchor="middle">10</text>
<text x="275.4" y="342.5" font-size="9.00" fill="#111" font-weight="bold" text-anchor="middle">100</text>
<text x="165.3" y="354.1" font-size="8.40" fill="#111" font-weight="bold" text-anchor="middle" textLength="64.8" lengthAdjust="spacingAndGlyphs">Frequency[MHz]</text>
<text transform="translate(31.0,261.6) rotate(-90)" x="0" y="0" font-size="8.40" font-weight="bold" fill="#111" text-anchor="middle" textLength="86.4" lengthAdjust="spacingAndGlyphs">Noise Level[dBuV/m]</text>
<rect x="147.1" y="192.7" width="207.7" height="44.0" fill="#fff" stroke="#3a3a3a" stroke-width="1"/>
<path d="M151.5,201.5H170.6" stroke="#111" stroke-width="3.00"/>
<text x="174.8" y="205.5" font-size="11.10" fill="#111" textLength="31.0" lengthAdjust="spacingAndGlyphs">Floor</text>
<path d="M151.5,214.3H170.6" stroke="#1010c8" stroke-width="3.00"/>
<text x="174.8" y="218.3" font-size="11.10" fill="#1010c8" textLength="106.4" lengthAdjust="spacingAndGlyphs">Without measures</text>
<path d="M151.5,226.5H170.6" stroke="#e01828" stroke-width="3.00"/>
<text x="174.8" y="230.5" font-size="11.10" fill="#e01828" textLength="176.8" lengthAdjust="spacingAndGlyphs">After measures to suppress noise</text>
<text x="448.8" y="141.3" font-size="15.4" fill="#1a1a1a" textLength="136.6" lengthAdjust="spacingAndGlyphs">Only LPF inserted</text>
<path d="M457.5,148.1V240.0M466.8,148.1V240.0M473.3,148.1V240.0M478.4,148.1V240.0M482.5,148.1V240.0M486.0,148.1V240.0M489.0,148.1V240.0M491.7,148.1V240.0M509.8,148.1V240.0M519.1,148.1V240.0M525.6,148.1V240.0M530.7,148.1V240.0M534.8,148.1V240.0M538.3,148.1V240.0M541.3,148.1V240.0M544.0,148.1V240.0M562.1,148.1V240.0M571.4,148.1V240.0M577.9,148.1V240.0M583.0,148.1V240.0M587.1,148.1V240.0M590.6,148.1V240.0M593.6,148.1V240.0M596.3,148.1V240.0M494.1,148.1V240.0M546.4,148.1V240.0M598.7,148.1V240.0" stroke="#2e2e2e" stroke-width="0.75" fill="none"/>
<path d="M441.8,221.6H600.9M441.8,203.2H600.9M441.8,184.9H600.9M441.8,166.5H600.9M441.8,148.1H600.9" stroke="#7c7c7c" stroke-width="0.75" fill="none"/>
<path d="M441.8,148.1V240.0H600.9V148.1" stroke="#7c7c7c" stroke-width="0.75" fill="none"/>
<path d="M451.0,196.0L451.3,196.8 451.7,197.5 452.0,201.0 452.3,197.5 452.7,201.3 453.0,197.5 453.3,198.2 453.6,198.2 454.0,198.3 454.3,198.6 454.6,199.3 455.0,198.6 455.3,195.7 455.6,198.2 456.0,197.3 456.3,197.5 456.6,196.8 456.9,196.1 457.3,194.9 457.6,195.5 457.9,196.1 458.3,197.1 458.6,196.6 458.9,199.2 459.3,197.8 459.6,196.6 459.9,199.9 460.2,199.2 460.6,195.6 460.9,201.2 461.2,202.3 461.6,201.0 461.9,198.2 462.2,198.2 462.6,203.0 462.9,200.9 463.2,201.9 463.5,203.0 463.9,205.2 464.2,201.4 464.5,204.3 464.9,203.0 465.2,203.6 465.5,201.4 465.9,202.7 466.2,206.2 466.5,205.2 466.8,203.8 467.2,207.5 467.5,206.6 467.8,206.1 468.2,209.1 468.5,209.0 468.8,210.1 469.2,207.6 469.5,208.9 469.8,207.0 470.1,208.3 470.5,207.8 470.8,208.8 471.1,207.0 471.5,207.2 471.8,207.4 472.1,203.4 472.5,202.7 472.8,199.9 473.1,202.1 473.3,201.3 473.4,148.9 473.6,203.3 473.4,206.1 473.8,201.5 474.1,197.9 474.4,198.7 474.8,200.0 475.1,195.4 475.4,197.6 475.8,197.9 476.1,198.6 476.4,198.8 476.7,198.5 477.1,202.0 477.4,200.2 477.7,200.8 478.1,198.7 478.4,202.0 478.7,198.5 479.1,200.1 479.4,198.9 479.7,202.4 480.0,200.5 480.4,201.3 480.7,204.1 481.0,202.6 481.4,203.1 481.7,204.0 482.0,204.0 482.4,205.1 482.7,204.0 483.0,203.1 483.3,204.8 483.7,206.1 484.0,202.6 484.3,204.8 484.7,204.4 485.0,205.0 485.3,205.6 485.7,204.2 486.0,205.9 486.3,205.4 486.6,207.6 487.0,208.0 487.3,206.5 487.6,203.5 488.0,206.1 488.3,203.8 488.6,206.1 489.0,206.3 489.0,206.9 489.1,162.7 489.3,206.9 489.3,204.6 489.6,205.6 489.9,208.3 490.3,208.2 490.6,205.9 490.9,208.7 491.3,206.9 491.6,209.6 491.9,207.6 492.3,206.6 492.6,207.7 492.9,208.7 493.2,209.0 493.6,209.5 493.9,209.6 494.2,207.5 494.6,207.7 494.9,209.2 495.2,212.3 495.6,211.1 495.9,209.7 496.2,210.2 496.5,212.9" stroke="#1616f2" stroke-width="1.09" fill="none" stroke-linejoin="round"/>
<path d="M496.2,210.2L496.5,212.9 496.9,209.3 497.2,205.8 497.5,213.0 497.9,210.7 498.2,207.9 498.2,210.9 498.3,171.7 498.5,211.7 498.5,210.7 498.9,210.1 499.2,212.0 499.5,209.5 499.8,214.9 500.2,210.3 500.5,210.9 500.8,212.0 501.2,211.1 501.5,211.8 501.8,209.5 502.2,212.9 502.5,212.3 502.8,214.8 503.1,214.4 503.5,212.9 503.8,215.4 504.1,214.2 504.5,215.1 504.8,212.7 504.9,176.4 505.1,212.5 504.8,211.0 505.1,216.4 505.5,213.3 505.8,211.4 506.1,210.5 506.4,210.5 506.8,215.8 507.1,214.2 507.4,212.3 507.8,211.6 508.1,212.9 508.4,213.0 508.8,213.1 509.1,215.1 509.4,213.4 509.7,212.3 509.8,213.8 509.9,182.6 510.1,211.7 510.1,219.1 510.4,214.5 510.7,210.9 511.1,212.5 511.4,211.5 511.7,214.0 512.1,216.5 512.4,215.4 512.7,211.7 513.0,218.0 513.4,216.4 513.7,217.9 514.0,214.8 514.1,188.4 514.3,215.6 514.0,213.8 514.4,216.5 514.7,211.9 515.0,213.9 515.4,216.1 515.7,217.1 516.0,218.1 516.3,215.2 516.7,211.9 517.0,215.9 517.3,217.6 517.5,215.7 517.6,196.0 517.8,216.7 517.7,217.4 518.0,219.3 518.3,216.0 518.7,213.3 519.0,213.8 519.3,214.3 519.6,215.8 520.0,215.4 520.3,214.4 520.5,216.3 520.6,190.4 520.8,215.8 520.6,217.0 521.0,214.3 521.3,218.1 521.6,215.2 522.0,214.9 522.3,215.0 522.6,215.3 522.9,217.5 523.2,216.7 523.3,191.1 523.5,217.4 523.3,217.4 523.6,218.8 523.9,217.6 524.3,218.0 524.6,218.6 524.9,216.2 525.3,218.3 525.6,217.0 525.7,186.3 525.9,214.3 525.6,213.9 525.9,216.9 526.2,215.1 526.6,216.5 526.9,212.5 527.2,213.9 527.6,214.8 527.8,216.9 527.9,189.6 528.1,217.3 527.9,215.9 528.2,216.9 528.6,217.3 528.9,215.5 529.2,219.1 529.5,220.5 529.7,216.8 529.8,186.2 530.0,218.9 529.9,216.9 530.2,218.4 530.5,217.1 530.9,220.5 531.2,214.0 531.5,216.0 531.5,216.7 531.6,189.7 531.8,216.1 531.9,214.4 532.2,215.1 532.5,216.8 532.8,215.5 533.2,215.0 533.2,216.6 533.3,186.5 533.5,219.3 533.5,217.7 533.8,214.8 534.2,213.8 534.5,216.3 534.8,216.6 534.9,182.8 535.1,214.7 534.8,216.7 535.2,217.8 535.5,217.6 535.8,216.2 536.1,213.7 536.3,216.3 536.4,183.7 536.6,218.6 536.5,218.5 536.8,214.6 537.1,215.7 537.5,217.7 537.6,216.0 537.7,183.9 537.9,213.4 537.8,214.4 538.1,215.6 538.5,213.3 538.8,216.4 538.9,215.7 539.0,185.7 539.2,217.4 539.1,212.1 539.4,211.6 539.8,215.6 540.1,214.3 540.2,215.4 540.3,184.2 540.5,213.7 540.4,213.1 540.8,214.0 541.1,215.4 541.3,215.2 541.4,185.5 541.6,219.3 541.4,225.9 541.8,215.3 542.1,218.2 542.4,214.4 542.4,214.6 542.5,185.0 542.7,218.8 542.7,216.4 543.1,212.4 543.4,213.3 543.5,214.0 543.6,186.1 543.8,217.1 543.7,211.4 544.1,212.6 544.2,186.9 544.3,214.3 544.4,213.0 544.7,202.8 545.1,215.0 545.4,215.8 545.7,205.9 546.0,212.8 546.4,215.6 546.7,210.5 546.8,192.5 547.0,210.4 547.0,211.1 547.4,215.4 547.7,206.5 548.0,210.6 548.4,211.9 548.5,186.1 548.6,215.2 548.7,217.9 549.0,216.2 549.3,210.3 549.7,210.9 550.0,208.2 550.3,214.0 550.7,211.6 550.8,188.1 550.9,210.1 551.0,206.6 551.3,208.6 551.7,214.1 552.0,209.9 552.3,214.9 552.6,218.5 552.7,185.9 552.9,210.2 553.0,207.1 553.3,215.5 553.6,214.0 554.0,210.2 554.3,209.8 554.4,185.1 554.5,215.5 554.6,207.4 555.0,202.1 555.3,215.0 555.6,201.6 555.9,211.1 556.3,216.8 556.4,182.8 556.5,214.9 556.6,205.7 556.9,204.0 557.3,208.7 557.6,212.6 557.7,189.3 557.8,208.4 557.9,216.2 558.3,203.3 558.6,205.4 558.9,202.3 559.2,206.2 559.3,188.5 559.5,205.9 559.6,204.7 559.9,201.2 560.2,213.0 560.6,202.6 560.7,185.8 560.8,208.6 560.9,208.5 561.2,203.1 561.6,216.1 561.9,209.7 562.2,210.7 562.3,189.6 562.5,201.9 562.5,206.9 562.9,202.0 563.2,210.7 563.5,190.4 563.6,186.9 563.8,212.7 563.9,204.9 564.2,211.5 564.5,211.2 564.9,202.3 565.0,185.2 565.1,204.4 565.2,209.5 565.5,199.9 565.8,206.1 566.2,202.5 566.5,210.7 566.6,184.1 566.8,204.6 566.8,206.7 567.2,198.2 567.5,202.6 567.8,197.8 568.2,204.5 568.3,184.6 568.4,216.8 568.5,200.3 568.8,203.4 569.1,201.5 569.2,186.3 569.4,201.5 569.5,205.6 569.8,199.2 570.1,199.8 570.5,207.4 570.6,185.6 570.7,204.0 570.8,205.6 571.1,209.8" stroke="#1616f2" stroke-width="0.71" fill="none" stroke-linejoin="round"/>
<path d="M571.1,209.8L571.5,201.0 571.6,184.9 571.8,200.2 572.0,185.1 572.1,198.2 572.3,185.6 572.4,201.7 572.6,184.4 572.8,200.8 572.9,185.3 573.1,202.3 573.3,184.2 573.4,198.9 573.6,185.4 573.8,198.8 573.9,185.2 574.1,201.3 574.3,184.1 574.4,202.3 574.6,185.0 574.8,201.6 574.9,184.4 575.1,202.8 575.3,184.4 575.4,202.2 575.6,185.6 575.7,201.6 575.9,184.3 576.1,200.0 576.2,183.8 576.4,202.1 576.6,184.1 576.7,201.8 576.9,184.8 577.1,202.1 577.2,183.9 577.4,202.8 577.6,185.1 577.7,201.0 577.9,184.1 578.1,203.0 578.2,184.0 578.4,201.6 578.6,184.5 578.7,201.4 578.9,183.9 579.0,197.0 579.2,184.9 579.4,203.3 579.5,184.3 579.7,202.4 579.9,184.7 580.0,202.9 580.2,184.2 580.4,201.3 580.5,183.8 580.7,202.5 580.9,183.9 581.0,203.1 581.2,183.9 581.4,201.8 581.5,183.7 581.7,202.1 581.9,185.0 582.0,200.8 582.2,184.3 582.3,203.5 582.5,183.8 582.7,202.1 582.8,183.8 583.0,202.9 583.2,184.7 583.3,202.1 583.5,184.0 583.7,198.0 583.8,184.5 584.0,200.8 584.2,183.8 584.3,202.0 584.5,183.9 584.7,203.3 584.8,184.1 585.0,204.7 585.2,184.3 585.3,200.4 585.5,184.2 585.6,203.2 585.8,183.7 586.0,202.7 586.1,185.1 586.3,202.9 586.5,183.6 586.6,203.3 586.8,183.9 587.0,201.4 587.1,184.8 587.3,203.0 587.5,184.2 587.6,203.9 587.8,184.2 588.0,202.5 588.1,184.7 588.3,203.9 588.5,183.8 588.6,205.3 588.8,184.2 588.9,204.5 589.1,184.0 589.3,203.2 589.4,184.2 589.6,205.4 589.8,185.7 589.9,205.5 590.1,184.4 590.3,204.5 590.4,184.0 590.6,203.4 590.8,184.4 590.9,203.0 591.1,184.2 591.3,205.1 591.4,184.7 591.6,203.5 591.8,184.7 591.9,204.2 592.1,184.7 592.2,206.5 592.4,184.1 592.6,203.1 592.7,184.9 592.9,204.8 593.1,185.2 593.2,205.6 593.4,184.9 593.6,205.7 593.7,184.9 593.9,205.0 594.1,184.6 594.2,205.4 594.4,185.3 594.6,205.2 594.7,185.9 594.9,207.5 595.1,184.8 595.2,203.8 595.4,184.6 595.5,206.6 595.7,184.7 595.9,204.7 596.0,185.4 596.2,206.8 596.4,184.9 596.5,205.4 596.7,185.2 596.9,207.3 597.0,185.8 597.2,206.2 597.4,185.2 597.5,208.4 597.7,185.1 597.9,206.0 598.0,186.0 598.2,208.3 598.4,186.6 598.5,207.2 598.7,185.6 598.8,206.5 599.0,185.2 599.2,208.2 599.3,185.6 599.5,206.9 599.7,185.4 599.8,206.8 600.0,185.1 600.2,205.4 600.3,185.4 600.5,206.9 600.7,185.1" stroke="#1616f2" stroke-width="0.75" fill="none" stroke-linejoin="round"/>
<path d="M451.0,186.2L451.3,187.4 451.7,185.5 452.0,190.9 452.3,193.3 452.7,193.2 453.0,191.2 453.3,194.0 453.6,192.1 454.0,194.1 454.3,193.6 454.6,196.8 455.0,194.3 455.3,194.8 455.6,197.9 456.0,195.9 456.3,194.9 456.6,198.7 456.9,200.5 457.3,200.7 457.6,201.0 457.9,200.3 458.3,200.2 458.6,203.7 458.9,204.3 459.3,206.5 459.6,206.3 459.9,205.6 460.2,208.9 460.6,206.0 460.9,206.1 461.2,206.0 461.6,208.4 461.9,209.9 462.2,208.7 462.6,209.9 462.9,211.0 463.2,210.0 463.5,210.9 463.9,207.2 464.2,208.8 464.5,208.8 464.9,211.3 465.2,208.1 465.5,211.0 465.9,209.2 466.2,212.3 466.5,209.9 466.8,213.7" stroke="#e84040" stroke-width="0.83" fill="none" stroke-linejoin="round"/>
<path d="M466.5,209.9L466.8,213.7 467.2,211.4 467.5,211.6 467.8,213.5 468.2,211.4 468.5,212.4 468.8,212.2 469.2,210.5 469.5,209.8 469.8,212.2 470.1,209.9 470.5,210.4 470.8,210.9 471.1,209.6 471.5,214.5 471.8,210.2 472.1,211.7 472.5,213.0 472.8,212.7 473.1,210.9 473.3,212.5 473.4,211.7 473.6,211.4 473.4,214.3 473.8,214.8 474.1,212.5 474.4,211.7 474.8,213.8 475.1,211.4 475.4,211.9 475.8,212.1 476.1,214.1 476.4,211.1 476.7,211.5 477.1,211.0 477.4,212.6 477.7,215.2 478.1,212.7 478.4,212.0 478.7,213.6 479.1,215.2 479.4,212.6 479.7,212.5 480.0,215.5 480.4,214.7 480.7,215.9 481.0,213.1 481.4,213.4 481.7,211.0 482.0,215.2 482.4,211.7 482.7,214.2 483.0,213.5 483.3,215.9 483.7,213.9 484.0,214.8 484.3,214.2 484.7,213.8 485.0,213.4 485.3,212.9 485.7,214.2 486.0,215.6 486.3,212.7 486.6,214.2 487.0,215.3 487.3,212.3 487.6,214.0 488.0,213.3 488.3,217.1 488.6,215.5 489.0,211.4 489.0,214.6 489.1,212.7 489.3,213.8 489.3,215.7 489.6,214.9 489.9,214.1 490.3,214.9 490.6,215.0 490.9,217.5 491.3,216.1 491.6,215.6 491.9,214.1 492.3,214.2 492.6,215.0 492.9,216.2 493.2,216.2 493.6,214.8 493.9,217.3 494.2,215.6 494.6,215.7 494.9,215.7 495.2,212.8 495.6,215.6 495.9,214.1 496.2,213.0 496.5,214.7 496.9,215.5 497.2,217.5 497.5,213.1 497.9,217.4 498.2,218.9 498.2,215.7 498.3,214.7 498.5,218.0 498.5,217.6 498.9,216.9 499.2,217.7 499.5,219.3 499.8,215.6 500.2,215.2 500.5,214.8 500.8,216.1 501.2,216.7 501.5,217.0 501.8,214.3 502.2,214.9 502.5,216.9 502.8,215.8 503.1,218.2 503.5,215.6 503.8,218.1 504.1,216.7 504.5,216.9 504.8,216.4 504.9,219.7 505.1,215.5 504.8,216.6 505.1,217.8 505.5,217.7 505.8,216.8 506.1,217.0 506.4,216.0 506.8,216.5 507.1,215.9 507.4,216.5 507.8,219.1 508.1,219.1 508.4,216.2 508.8,216.4 509.1,217.0 509.4,219.1 509.7,218.2 509.8,217.0 509.9,217.0 510.1,216.1 510.1,218.4 510.4,219.3 510.7,218.4 511.1,216.8 511.4,214.8 511.7,218.1 512.1,215.6 512.4,218.1 512.7,218.1 513.0,218.7 513.4,216.2 513.7,218.2 514.0,217.4 514.1,214.5 514.3,218.1 514.0,214.8 514.4,217.2 514.7,217.5 515.0,219.4 515.4,215.6 515.7,217.2 516.0,217.6 516.3,217.7 516.7,218.5 517.0,218.6 517.3,217.3 517.5,217.8 517.6,216.7 517.8,218.0 517.7,214.3 518.0,218.0 518.3,218.3 518.7,216.5 519.0,219.5 519.3,215.8" stroke="#8c1c1c" stroke-width="0.75" fill="none" stroke-linejoin="round"/>
<path d="M519.0,219.5L519.3,215.8 519.6,218.0 520.0,219.8 520.3,218.2 520.5,218.0 520.6,216.5 520.8,216.9 520.6,218.7 521.0,216.9 521.3,221.0 521.6,218.7 522.0,217.2 522.3,217.3 522.6,218.0 522.9,216.9 523.2,218.1 523.3,214.4 523.5,218.1 523.3,217.8 523.6,216.7 523.9,217.9 524.3,222.1 524.6,220.6 524.9,219.2 525.3,217.1 525.6,218.2 525.7,215.3 525.9,217.2 525.6,216.7 525.9,217.4 526.2,219.7 526.6,217.0 526.9,220.4 527.2,220.3 527.6,219.0 527.8,218.3 527.9,218.5 528.1,215.7 527.9,214.7 528.2,218.6 528.6,219.0 528.9,221.6 529.2,217.6 529.5,219.5 529.7,218.4 529.8,217.1 530.0,220.6 529.9,218.7 530.2,218.8 530.5,218.7 530.9,219.5 531.2,221.2 531.5,216.3 531.5,218.4 531.6,214.3 531.8,219.5 531.9,220.6 532.2,220.1 532.5,217.5 532.8,217.8 533.2,218.1 533.2,218.4 533.3,213.7 533.5,219.4 533.5,216.3 533.8,218.3 534.2,219.7 534.5,217.7 534.8,218.4 534.9,214.9 535.1,219.6 534.8,215.8 535.2,221.1 535.5,218.1 535.8,217.9 536.1,219.6 536.3,218.4 536.4,215.2 536.6,216.5 536.5,220.3 536.8,220.2 537.1,219.0 537.5,217.7 537.6,218.4 537.7,213.7 537.9,217.6 537.8,220.2 538.1,216.8 538.5,217.4 538.8,216.9 538.9,218.4 539.0,217.4 539.2,221.1 539.1,219.6 539.4,219.2 539.8,218.6 540.1,220.3 540.2,218.4 540.3,216.7 540.5,217.9 540.4,221.9 540.8,220.4 541.1,218.5 541.3,218.4 541.4,214.2 541.6,218.2 541.4,216.1 541.8,218.1 542.1,217.5 542.4,217.3 542.4,218.4 542.5,215.1 542.7,220.6 542.7,219.0 543.1,218.9 543.4,220.0 543.5,218.4 543.6,214.2 543.8,219.4 543.7,220.9 544.1,218.6 544.4,220.2 544.5,218.4 544.6,214.4 544.8,222.7 544.7,221.3 545.1,218.6 545.4,218.3 545.5,218.4 545.6,215.0 545.8,216.3 545.7,219.0 546.0,219.4 546.4,217.3 546.4,218.4 546.5,215.5 546.7,218.0 546.7,216.6 547.0,218.8 547.3,218.3 547.4,215.2 547.6,219.5 547.4,217.9 547.7,217.5 548.0,216.9 548.1,218.3 548.2,214.1 548.4,215.3 548.4,218.2 548.7,218.2 549.0,218.2 549.1,215.4 549.3,216.4 549.0,218.2 549.3,218.7 549.7,220.3 549.8,218.1 549.9,215.1 550.1,216.9 550.0,222.2 550.3,219.9 550.5,218.0 550.6,216.2 550.8,219.4 550.7,218.1 551.0,218.7 551.3,218.0 551.4,214.7 551.6,217.6 551.3,216.0 551.7,218.4 552.0,217.5 552.0,217.9 552.1,215.1 552.3,217.8 552.3,218.5 552.6,219.7 552.7,217.9 552.8,214.3 553.0,216.3 553.0,219.4 553.3,217.9 553.4,217.8 553.5,214.8 553.7,221.1 553.6,214.9 554.0,215.6 554.0,217.7 554.1,213.2 554.3,216.3 554.3,219.1 554.6,221.5 554.7,217.7 554.8,214.8 555.0,217.6 555.0,218.2 555.3,218.4 555.3,217.6 555.4,213.4 555.6,216.5 555.6,217.7 555.9,217.6 556.0,215.4 556.2,214.1 555.9,216.4 556.3,217.5 556.5,217.5 556.6,216.5 556.8,220.0 556.6,221.9 556.9,218.0 557.1,217.5 557.2,214.3 557.4,217.8 557.3,217.5 557.6,217.1 557.6,217.4 557.7,213.5 557.9,220.2 557.9,219.4 558.2,217.4 558.3,213.5 558.5,217.0 558.3,216.7 558.6,219.0 558.7,217.3 558.8,212.6 559.0,217.2 558.9,217.7 559.2,217.3 559.3,215.8 559.5,217.1 559.2,217.1 559.6,217.5 559.8,217.2 559.9,212.4 560.1,215.5 559.9,217.3 560.2,218.1 560.2,217.2 560.3,215.2 560.5,216.7 560.6,221.5 560.7,217.1 560.8,214.1 561.0,217.5 560.9,213.9 561.2,217.1 561.3,213.9 561.5,217.4 561.2,217.0 561.6,218.1 561.7,217.1 561.8,215.5 562.0,217.2 561.9,220.1 562.1,217.0 562.2,214.5 562.4,219.6 562.2,218.1 562.5,218.1 562.6,217.0 562.7,213.5 562.9,214.6 562.9,214.7 563.0,216.9 563.1,215.1 563.3,217.3 563.2,216.8 563.5,216.9 563.6,214.2 563.8,215.1 563.5,215.8 563.9,216.8 563.9,216.9 564.0,211.8 564.2,215.4 564.2,213.9 564.3,216.8 564.4,214.5 564.6,215.9 564.5,216.2 564.7,216.8 564.8,214.2 565.0,218.3 564.9,216.3 565.1,216.7 565.2,216.4 565.4,216.1 565.2,214.0 565.5,216.7 565.6,212.8 565.8,216.2 565.5,217.1 565.8,215.4 565.9,216.6 566.0,215.8 566.2,218.5 566.2,218.6 566.3,216.6 566.4,213.8 566.6,218.6 566.5,215.6 566.7,216.6 566.8,213.0 567.0,215.5 566.8,216.7 567.0,216.5 567.1,213.8 567.3,218.4 567.2,216.2 567.4,216.5 567.5,212.0 567.7,214.2 567.5,218.9 567.8,216.5 567.9,214.4 568.1,217.0 567.8,215.0 568.1,216.4 568.2,214.0 568.4,216.6 568.2,217.4 568.4,216.4 568.5,214.1 568.7,216.6 568.5,216.3 568.8,216.4 568.9,214.5 569.1,218.2 568.8,215.7 569.1,216.3 569.2,213.7 569.4,216.0 569.1,215.9 569.5,216.3 569.6,212.6 569.8,214.6 569.5,213.7 569.8,216.3 569.9,213.3 570.1,214.9 569.8,216.2 570.1,216.2 570.2,215.7 570.4,218.0 570.1,215.4 570.4,216.2 570.5,214.1 570.7,215.3 570.5,219.7 570.7,216.2 570.8,214.6 571.0,216.0 570.8,216.8 571.0,216.1 571.1,214.7 571.3,219.0 571.1,216.4" stroke="#d83848" stroke-width="0.75" fill="none" stroke-linejoin="round"/>
<path d="M571.1,216.4L571.5,216.6 571.6,205.4 571.8,218.0 572.0,204.6 572.1,218.7 572.3,205.8 572.4,218.9 572.6,203.8 572.8,217.8 572.9,203.4 573.1,216.7 573.3,207.0 573.4,218.3 573.6,206.8 573.8,216.1 573.9,203.3 574.1,216.7 574.3,204.1 574.4,216.6 574.6,204.2 574.8,212.2 574.9,203.5 575.1,218.9 575.3,207.8 575.4,218.9 575.6,204.1 575.7,218.2 575.9,203.3 576.1,217.8 576.2,206.9 576.4,217.7 576.6,204.6 576.7,215.8 576.9,203.9 577.1,215.3 577.2,204.5 577.4,215.2 577.6,203.9 577.7,215.9 577.9,208.4 578.1,217.2 578.2,204.0 578.4,218.6 578.6,204.3 578.7,217.7 578.9,203.6 579.0,217.0 579.2,203.4 579.4,216.1 579.5,204.1 579.7,218.5 579.9,205.4 580.0,218.5 580.2,204.3 580.4,214.9 580.5,204.1 580.7,218.4 580.9,204.2 581.0,219.1 581.2,203.7 581.4,218.6 581.5,203.4 581.7,219.0 581.9,204.7 582.0,217.0 582.2,203.3 582.3,216.7 582.5,203.3 582.7,217.5 582.8,204.1 583.0,218.0 583.2,203.7 583.3,219.2 583.5,203.5 583.7,217.1 583.8,204.3 584.0,218.5 584.2,203.8 584.3,219.2 584.5,204.1 584.7,217.0 584.8,202.7 585.0,217.9 585.2,204.9 585.3,218.6 585.5,204.3 585.6,219.2 585.8,203.8 586.0,217.5 586.1,202.4 586.3,218.8 586.5,205.1 586.6,218.0 586.8,202.0 587.0,216.1 587.1,202.6 587.3,218.1 587.5,201.8 587.6,217.1 587.8,202.5 588.0,217.1 588.1,201.9 588.3,216.7 588.5,201.2 588.6,219.0 588.8,202.7 588.9,219.3 589.1,202.2 589.3,216.9 589.4,200.7 589.6,215.2 589.8,202.6 589.9,218.2 590.1,200.7 590.3,219.4 590.4,200.7 590.6,216.9 590.8,200.8 590.9,218.7 591.1,200.9 591.3,217.6 591.4,200.0 591.6,217.9 591.8,200.2 591.9,216.8 592.1,199.6 592.2,216.5 592.4,199.5 592.6,219.3 592.7,200.5 592.9,218.7 593.1,201.9 593.2,218.5 593.4,199.4 593.6,218.6 593.7,199.3 593.9,217.2 594.1,202.3 594.2,219.0 594.4,199.0 594.6,219.3 594.7,198.9 594.9,219.5 595.1,199.3 595.2,218.0 595.4,200.2 595.5,219.4 595.7,198.4 595.9,218.5 596.0,198.2 596.2,218.0 596.4,198.0 596.5,217.8 596.7,198.3 596.9,218.3 597.0,202.0 597.2,215.8 597.4,199.6 597.5,217.5 597.7,197.7 597.9,217.2 598.0,198.3 598.2,215.9 598.4,197.1 598.5,218.2 598.7,199.3 598.8,218.7 599.0,197.2 599.2,219.5 599.3,198.0 599.5,218.7 599.7,197.9 599.8,218.3 600.0,197.8 600.2,218.7 600.3,197.6 600.5,217.2 600.7,197.7" stroke="#f02828" stroke-width="0.75" fill="none" stroke-linejoin="round"/>
<path d="M451.0,207.6L451.3,209.6 451.7,210.4 452.0,211.1 452.3,210.7 452.7,211.6 453.0,209.9 453.3,210.4 453.6,209.5 454.0,210.2 454.3,209.6 454.6,208.9 455.0,209.6 455.3,207.6 455.6,209.6 456.0,211.6 456.3,210.4 456.6,210.3 456.9,211.1 457.3,210.5 457.6,210.7 457.9,209.9 458.3,211.7 458.6,212.7 458.9,212.2 459.3,214.1 459.6,215.0 459.9,213.2 460.2,212.6 460.6,212.9 460.9,210.7 461.2,213.5 461.6,213.7 461.9,210.0 462.2,214.2 462.6,211.6 462.9,212.7 463.2,215.7 463.5,211.5 463.9,213.1 464.2,212.4 464.5,212.6 464.9,212.5 465.2,211.9 465.5,210.5 465.9,212.8 466.2,213.4 466.5,212.2 466.8,212.5" stroke="#505050" stroke-width="0.60" fill="none" stroke-linejoin="round"/>
<path d="M466.5,212.2L466.8,212.5 467.2,217.5 467.5,212.6 467.8,214.1 468.2,213.9 468.5,215.9 468.8,210.4 469.2,212.8 469.5,214.4 469.8,214.4 470.1,214.1 470.5,214.0 470.8,212.6 471.1,213.3 471.5,214.8 471.8,214.4 472.1,213.1 472.5,215.7 472.8,214.8 473.1,212.6 473.4,214.2 473.8,211.9 474.1,216.2 474.4,215.1 474.8,215.7 475.1,215.8 475.4,213.1 475.8,212.7 476.1,214.3 476.4,214.7 476.7,211.6 477.1,211.9 477.4,218.0 477.7,214.7 478.1,218.0 478.4,217.2 478.7,215.8 479.1,216.6 479.4,213.8 479.7,215.5 480.0,215.2 480.4,215.0 480.7,212.0 481.0,214.4 481.4,213.4 481.7,214.1 482.0,213.0 482.4,215.0 482.7,215.2 483.0,213.0 483.3,214.9 483.7,217.8 484.0,217.3 484.3,216.0 484.7,214.5 485.0,216.6 485.3,212.9 485.7,214.7 486.0,215.9 486.3,217.5 486.6,214.4 487.0,214.6 487.3,217.6 487.6,213.5 488.0,213.7 488.3,213.3 488.6,215.9 489.0,214.3 489.3,219.3 489.6,215.2 489.9,216.7 490.3,216.2 490.6,215.3 490.9,217.3 491.3,216.5 491.6,217.8 491.9,217.6 492.3,218.1 492.6,215.8 492.9,214.3 493.2,218.0 493.6,219.1 493.9,216.9 494.2,215.9 494.6,216.2 494.9,218.6 495.2,216.7 495.6,218.1 495.9,217.5 496.2,217.0 496.5,217.6 496.9,216.1 497.2,217.8 497.5,214.5 497.9,216.8 498.2,218.9 498.5,215.5 498.9,215.7 499.2,216.7 499.5,217.2 499.8,216.7 500.2,215.9 500.5,217.5 500.8,216.0 501.2,218.3 501.5,216.6 501.8,219.1 502.2,216.9 502.5,216.6 502.8,218.5 503.1,217.0 503.5,220.7 503.8,217.8 504.1,218.2 504.5,216.7 504.8,217.9 505.1,216.2 505.5,214.8 505.8,217.7 506.1,216.5 506.4,215.2 506.8,216.5 507.1,216.3 507.4,218.4 507.8,217.5 508.1,219.8 508.4,216.8 508.8,217.5 509.1,217.5 509.4,221.3 509.7,216.6 510.1,215.9 510.4,216.1 510.7,217.7 511.1,216.3 511.4,218.4 511.7,219.6 512.1,218.7 512.4,219.8 512.7,215.8 513.0,222.7 513.4,218.4 513.7,220.2 514.0,219.8 514.4,217.8 514.7,219.1 515.0,217.3 515.4,219.4 515.7,219.4 516.0,219.1 516.3,217.3 516.7,220.5 517.0,219.9 517.3,220.4 517.7,220.3 518.0,221.6 518.3,220.1 518.7,219.0 519.0,217.5 519.3,219.0 519.6,220.7 520.0,217.5 520.3,222.6 520.6,219.1 521.0,221.9 521.3,220.2 521.6,222.1 522.0,222.5 522.3,220.9 522.6,217.2 522.9,219.5 523.3,218.7 523.6,220.7 523.9,220.1 524.3,221.4 524.6,221.2 524.9,220.8 525.3,218.7 525.6,219.8 525.9,221.5 526.2,220.6 526.6,221.8 526.9,219.5 527.2,220.0 527.6,220.1 527.9,219.3 528.2,219.6 528.6,218.2 528.9,221.8 529.2,219.4 529.5,220.9 529.9,219.1 530.2,221.5 530.5,223.3 530.9,221.4 531.2,221.7 531.5,222.5 531.9,221.4 532.2,219.0 532.5,221.4 532.8,219.8 533.2,218.7 533.5,219.3 533.8,220.2 534.2,219.5 534.5,221.7 534.8,223.1 535.2,223.5 535.5,219.6 535.8,218.9 536.1,221.6 536.5,221.1 536.8,224.9 537.1,220.1 537.5,221.4 537.8,224.3 538.1,220.5 538.5,220.4 538.8,220.0 539.1,221.6 539.4,221.0 539.8,222.8 540.1,219.2 540.4,222.0 540.8,219.5 541.1,220.7 541.4,221.9 541.8,219.5 542.1,222.7 542.4,221.0 542.7,221.4 543.1,221.9 543.4,221.4 543.7,220.6 544.1,222.4 544.4,222.6 544.7,222.1 545.1,222.7 545.4,223.5 545.7,221.5 546.0,224.7 546.4,222.1 546.7,222.8 547.0,221.8 547.4,221.3 547.7,221.6 548.0,222.1 548.4,219.9 548.7,222.9 549.0,224.0 549.3,222.4 549.7,220.9 550.0,219.2 550.3,218.7 550.7,221.4 551.0,220.2 551.3,219.4 551.7,222.8 552.0,219.6 552.3,221.3 552.6,222.2 553.0,221.1 553.3,220.9 553.6,225.2 554.0,221.9 554.3,221.6 554.6,223.1 555.0,221.7 555.3,222.6 555.6,223.3 555.9,222.2 556.3,225.2 556.6,221.3 556.9,221.2 557.3,221.5 557.6,221.1 557.9,222.7 558.3,223.0 558.6,224.9 558.9,224.8 559.2,223.3 559.6,220.6 559.9,222.1 560.2,219.9 560.6,220.8 560.9,223.7 561.2,223.0 561.6,223.8 561.9,224.4 562.2,221.7 562.5,221.0 562.9,223.5 563.2,220.4 563.5,220.6 563.9,223.0 564.2,221.5 564.5,223.6 564.9,222.0 565.2,221.2 565.5,225.0 565.8,219.7 566.2,224.8 566.5,221.9 566.8,222.8 567.2,220.6 567.5,223.4 567.8,222.8 568.2,217.0 568.5,219.3 568.8,220.6 569.1,223.1 569.5,221.4 569.8,224.7 570.1,223.3 570.5,221.3 570.8,220.7 571.1,222.6" stroke="#561616" stroke-width="0.75" fill="none" stroke-linejoin="round"/>
<path d="M571.1,222.6L571.5,234.6 571.6,231.8 571.8,234.4 572.0,231.1 572.1,235.3 572.3,232.3 572.4,234.0 572.6,231.3 572.8,235.2 572.9,233.0 573.1,232.8 573.3,232.6 573.4,235.1 573.6,231.3 573.8,233.6 573.9,232.0 574.1,235.0 574.3,230.7 574.4,232.6 574.6,231.3 574.8,234.7 574.9,230.7 575.1,234.4 575.3,230.9 575.4,234.9 575.6,231.9 575.7,233.4 575.9,230.6 576.1,233.5 576.2,230.5 576.4,234.1 576.6,231.7 576.7,234.0 576.9,230.7 577.1,234.9 577.2,231.2 577.4,234.2 577.6,230.7 577.7,234.5 577.9,230.8 578.1,234.2 578.2,230.7 578.4,234.9 578.6,232.1 578.7,233.6 578.9,230.4 579.0,233.8 579.2,231.1 579.4,233.9 579.5,231.6 579.7,234.3 579.9,230.6 580.0,233.9 580.2,230.4 580.4,234.7 580.5,230.6 580.7,233.9 580.9,231.5 581.0,232.8 581.2,230.3 581.4,233.9 581.5,230.9 581.7,233.1 581.9,231.5 582.0,234.5 582.2,232.1 582.3,234.3 582.5,230.2 582.7,232.9 582.8,231.3 583.0,232.9 583.2,232.4 583.3,233.5 583.5,230.4 583.7,234.0 583.8,231.0 584.0,234.3 584.2,232.7 584.3,232.8 584.5,231.7 584.7,234.1 584.8,230.1 585.0,234.2 585.2,230.6 585.3,234.3 585.5,230.4 585.6,232.9 585.8,230.5 586.0,233.0 586.1,230.9 586.3,232.3 586.5,230.4 586.6,232.7 586.8,231.2 587.0,234.1 587.1,231.5 587.3,233.7 587.5,230.7 587.6,233.8 587.8,230.1 588.0,233.7 588.1,231.8 588.3,233.3 588.5,230.0 588.6,234.2 588.8,229.9 588.9,233.9 589.1,231.1 589.3,233.8 589.4,230.6 589.6,232.3 589.8,231.1 589.9,234.1 590.1,230.5 590.3,234.0 590.4,230.3 590.6,232.4 590.8,231.3 590.9,233.8 591.1,229.6 591.3,233.9 591.4,229.6 591.6,233.6 591.8,229.8 591.9,233.9 592.1,229.6 592.2,232.0 592.4,229.8 592.6,233.1 592.7,229.9 592.9,233.2 593.1,230.2 593.2,233.3 593.4,230.5 593.6,233.8 593.7,230.6 593.9,232.5 594.1,229.7 594.2,232.0 594.4,230.2 594.6,232.9 594.7,230.6 594.9,233.3 595.1,229.2 595.2,233.4 595.4,229.8 595.5,231.9 595.7,230.2 595.9,232.6 596.0,229.6 596.2,233.7 596.4,229.8 596.5,232.1 596.7,230.2 596.9,231.1 597.0,230.7 597.2,233.2 597.4,231.0 597.5,231.1 597.7,229.3 597.9,232.0 598.0,229.8 598.2,233.1 598.4,229.8 598.5,232.6 598.7,230.1 598.8,232.6 599.0,229.9 599.2,230.7 599.3,229.9 599.5,232.2 599.7,229.3 599.8,233.3 600.0,229.6 600.2,232.8 600.3,232.0 600.5,232.8 600.7,231.4" stroke="#505050" stroke-width="0.52" fill="none" stroke-linejoin="round"/>
<path d="M473.3,212.5V180.3" stroke="#e04070" stroke-width="0.98"/>
<path d="M489.0,214.6V194.1" stroke="#c03060" stroke-width="0.98"/>
<path d="M451.0,166.5H466.8" stroke="#301820" stroke-width="1.2" fill="none"/>
<path d="M479.7,183.5H507.5" stroke="#d070a0" stroke-width="1.2" fill="none"/>
<path d="M571.7,194.1H594.9" stroke="#9040a0" stroke-width="1.2" fill="none"/>
<path d="M587.8,199.6H598.7" stroke="#9040a0" stroke-width="1.2" fill="none"/>
<text x="436.3" y="150.7" font-size="7.00" fill="#111" font-weight="bold" text-anchor="end">80</text>
<text x="436.3" y="169.0" font-size="7.00" fill="#111" font-weight="bold" text-anchor="end">60</text>
<text x="436.3" y="187.4" font-size="7.00" fill="#111" font-weight="bold" text-anchor="end">40</text>
<text x="436.3" y="205.8" font-size="7.00" fill="#111" font-weight="bold" text-anchor="end">20</text>
<text x="436.3" y="224.2" font-size="7.00" fill="#111" font-weight="bold" text-anchor="end">0</text>
<text x="436.3" y="242.6" font-size="7.00" fill="#111" font-weight="bold" text-anchor="end">-20</text>
<text x="441.0" y="251.7" font-size="7.00" fill="#111" font-weight="bold" text-anchor="middle" textLength="8.4" lengthAdjust="spacingAndGlyphs">0.1</text>
<text x="494.4" y="251.7" font-size="7.00" fill="#111" font-weight="bold" text-anchor="middle">1</text>
<text x="546.7" y="251.7" font-size="7.00" fill="#111" font-weight="bold" text-anchor="middle">10</text>
<text x="599.0" y="251.7" font-size="7.00" fill="#111" font-weight="bold" text-anchor="middle">100</text>
<text x="522.0" y="259.6" font-size="6.63" fill="#111" font-weight="bold" text-anchor="middle" textLength="47.9" lengthAdjust="spacingAndGlyphs">Frequency[MHz]</text>
<text transform="translate(425.2,193.1) rotate(-90)" x="0" y="0" font-size="6.89" font-weight="bold" fill="#111" text-anchor="middle" textLength="61.9" lengthAdjust="spacingAndGlyphs">Noise Level[dBuV/m]</text>
<rect x="515.4" y="146.2" width="107.6" height="32.4" fill="#fff" stroke="#3a3a3a" stroke-width="1"/>
<path d="M521.3,152.7H535.5" stroke="#111" stroke-width="3.20"/>
<text x="538.8" y="155.6" font-size="9.60" fill="#111">Floor</text>
<path d="M521.3,161.5H535.5" stroke="#1010c8" stroke-width="3.20"/>
<text x="538.8" y="164.4" font-size="9.60" fill="#1010c8" textLength="81.6" lengthAdjust="spacingAndGlyphs">Without measures</text>
<path d="M521.3,170.6H535.5" stroke="#e01828" stroke-width="3.20"/>
<text x="538.8" y="173.5" font-size="9.60" fill="#e01828" textLength="14.2" lengthAdjust="spacingAndGlyphs">LPF</text>
<text x="442.0" y="293.2" font-size="15.2" fill="#1a1a1a" textLength="154.8" lengthAdjust="spacingAndGlyphs">Only CMCC inserted</text>
<path d="M457.5,299.6V391.1M466.8,299.6V391.1M473.3,299.6V391.1M478.4,299.6V391.1M482.5,299.6V391.1M486.0,299.6V391.1M489.0,299.6V391.1M491.7,299.6V391.1M509.8,299.6V391.1M519.1,299.6V391.1M525.6,299.6V391.1M530.7,299.6V391.1M534.8,299.6V391.1M538.3,299.6V391.1M541.3,299.6V391.1M544.0,299.6V391.1M562.1,299.6V391.1M571.4,299.6V391.1M577.9,299.6V391.1M583.0,299.6V391.1M587.1,299.6V391.1M590.6,299.6V391.1M593.6,299.6V391.1M596.3,299.6V391.1M494.1,299.6V391.1M546.4,299.6V391.1M598.7,299.6V391.1" stroke="#2e2e2e" stroke-width="0.75" fill="none"/>
<path d="M441.8,372.8H600.9M441.8,354.5H600.9M441.8,336.2H600.9M441.8,317.9H600.9M441.8,299.6H600.9" stroke="#7c7c7c" stroke-width="0.75" fill="none"/>
<path d="M441.8,299.6V391.1H600.9V299.6" stroke="#7c7c7c" stroke-width="0.75" fill="none"/>
<path d="M451.0,347.2L451.3,348.0 451.7,349.1 452.0,349.4 452.3,349.5 452.7,354.0 453.0,347.6 453.3,349.7 453.6,351.6 454.0,348.8 454.3,350.4 454.6,347.9 455.0,350.2 455.3,347.8 455.6,350.8 456.0,347.0 456.3,349.8 456.6,347.3 456.9,346.4 457.3,348.7 457.6,346.1 457.9,347.5 458.3,347.2 458.6,346.6 458.9,348.5 459.3,347.4 459.6,350.8 459.9,351.3 460.2,349.1 460.6,352.1 460.9,350.5 461.2,352.5 461.6,351.7 461.9,351.4 462.2,353.3 462.6,353.5 462.9,354.8 463.2,352.0 463.5,354.7 463.9,355.1 464.2,354.2 464.5,354.8 464.9,355.8 465.2,354.5 465.5,355.1 465.9,356.5 466.2,356.5 466.5,354.4 466.8,356.3 467.2,357.6 467.5,357.5 467.8,357.0 468.2,355.6 468.5,360.2 468.8,358.4 469.2,360.0 469.5,359.0 469.8,360.3 470.1,360.7 470.5,360.9 470.8,360.7 471.1,358.9 471.5,355.7 471.8,358.7 472.1,357.4 472.5,355.9 472.8,352.2 473.1,351.2 473.3,352.6 473.4,300.0 473.6,351.9 473.4,352.1 473.8,352.6 474.1,349.8 474.4,348.4 474.8,348.3 475.1,348.3 475.4,349.7 475.8,348.1 476.1,349.4 476.4,348.6 476.7,351.3 477.1,351.7 477.4,349.5 477.7,351.2 478.1,353.7 478.4,352.8 478.7,353.4 479.1,352.5 479.4,355.0 479.7,351.8 480.0,352.0 480.4,353.3 480.7,353.5 481.0,353.7 481.4,354.4 481.7,352.5 482.0,355.6 482.4,351.2 482.7,356.1 483.0,354.4 483.3,356.3 483.7,356.2 484.0,355.6 484.3,357.6 484.7,355.0 485.0,355.6 485.3,355.3 485.7,355.2 486.0,357.6 486.3,356.9 486.6,357.1 487.0,355.5 487.3,357.3 487.6,358.5 488.0,357.1 488.3,358.3 488.6,356.8 489.0,356.2 489.0,358.2 489.1,312.0 489.3,359.2 489.3,357.1 489.6,359.7 489.9,359.1 490.3,357.5 490.6,358.7 490.9,356.6 491.3,358.2 491.6,359.3 491.9,358.2 492.3,359.8 492.6,358.3 492.9,363.3 493.2,360.6 493.6,361.9 493.9,361.0 494.2,362.0 494.6,357.5 494.9,360.1 495.2,361.4 495.6,359.7 495.9,366.0 496.2,359.1 496.5,365.4" stroke="#1616f2" stroke-width="1.09" fill="none" stroke-linejoin="round"/>
<path d="M496.2,359.1L496.5,365.4 496.9,361.5 497.2,358.3 497.5,364.0 497.9,363.7 498.2,366.2 498.2,362.1 498.3,325.0 498.5,361.7 498.5,362.0 498.9,363.2 499.2,361.8 499.5,363.4 499.8,364.3 500.2,363.5 500.5,365.0 500.8,367.2 501.2,363.5 501.5,362.4 501.8,361.1 502.2,362.2 502.5,364.0 502.8,365.0 503.1,363.8 503.5,363.1 503.8,363.9 504.1,364.8 504.5,363.2 504.8,364.0 504.9,330.2 505.1,362.8 504.8,360.8 505.1,366.3 505.5,363.0 505.8,364.9 506.1,365.6 506.4,363.1 506.8,363.2 507.1,364.7 507.4,361.3 507.8,363.6 508.1,367.9 508.4,361.9 508.8,364.5 509.1,361.9 509.4,366.7 509.7,366.6 509.8,365.0 509.9,334.0 510.1,364.4 510.1,363.7 510.4,366.5 510.7,358.9 511.1,367.0 511.4,366.1 511.7,361.7 512.1,362.1 512.4,362.8 512.7,365.0 513.0,365.5 513.4,361.7 513.7,368.3 514.0,366.1 514.1,339.7 514.3,365.9 514.0,365.7 514.4,364.2 514.7,366.0 515.0,365.7 515.4,365.5 515.7,367.0 516.0,366.1 516.3,368.8 516.7,368.4 517.0,366.8 517.3,367.5 517.5,366.9 517.6,346.3 517.8,366.8 517.7,366.5 518.0,365.3 518.3,370.3 518.7,369.2 519.0,367.9 519.3,364.1 519.6,368.2 520.0,364.2 520.3,365.6 520.5,367.5 520.6,341.5 520.8,366.8 520.6,366.5 521.0,368.3 521.3,364.9 521.6,366.8 522.0,367.7 522.3,368.8 522.6,366.8 522.9,366.8 523.2,367.9 523.3,340.5 523.5,363.7 523.3,366.7 523.6,369.0 523.9,369.1 524.3,370.3 524.6,369.8 524.9,370.4 525.3,366.4 525.6,368.2 525.7,341.0 525.9,365.6 525.6,369.3 525.9,370.6 526.2,369.7 526.6,368.3 526.9,368.0 527.2,369.0 527.6,366.2 527.8,368.1 527.9,342.5 528.1,369.8 527.9,366.8 528.2,370.4 528.6,369.5 528.9,367.1 529.2,366.9 529.5,366.9 529.7,368.0 529.8,335.3 530.0,368.0 529.9,367.6 530.2,367.7 530.5,368.0 530.9,366.2 531.2,367.8 531.5,366.3 531.5,367.9 531.6,339.8 531.8,366.2 531.9,372.1 532.2,364.2 532.5,369.4 532.8,368.4 533.2,368.7 533.2,367.8 533.3,333.6 533.5,370.4 533.5,368.4 533.8,368.2 534.2,363.4 534.5,365.2 534.8,367.8 534.9,337.3 535.1,368.2 534.8,367.4 535.2,369.1 535.5,364.9 535.8,366.9 536.1,370.5 536.3,367.5 536.4,336.1 536.6,367.5 536.5,368.2 536.8,366.8 537.1,365.9 537.5,367.6 537.6,367.2 537.7,337.0 537.9,366.5 537.8,370.2 538.1,365.2 538.5,369.4 538.8,366.6 538.9,366.9 539.0,336.4 539.2,365.9 539.1,367.9 539.4,366.0 539.8,369.7 540.1,364.1 540.2,366.6 540.3,335.4 540.5,364.9 540.4,367.5 540.8,366.0 541.1,367.2 541.3,366.4 541.4,336.2 541.6,370.8 541.4,366.6 541.8,376.8 542.1,361.4 542.4,370.8 542.4,365.8 542.5,335.0 542.7,360.0 542.7,362.7 543.1,370.1 543.4,363.8 543.5,365.2 543.6,335.2 543.8,361.9 543.7,363.2 544.1,364.5 544.2,339.6 544.3,365.9 544.4,364.9 544.7,365.7 545.1,365.7 545.4,363.9 545.7,366.3 546.0,359.9 546.4,363.3 546.7,358.6 546.8,340.1 547.0,367.1 547.0,363.8 547.4,363.3 547.7,359.1 548.0,371.5 548.4,361.9 548.7,369.6 549.0,366.6 549.1,338.5 549.3,362.6 549.3,363.6 549.7,357.5 550.0,359.9 550.3,363.1 550.7,358.4 551.0,364.0 551.3,359.7 551.4,333.4 551.6,359.1 551.7,364.6 552.0,363.0 552.3,364.3 552.6,354.3 552.7,335.5 552.9,360.9 553.0,353.4 553.3,362.2 553.6,362.5 554.0,354.7 554.3,358.0 554.6,365.1 554.7,335.7 554.9,360.9 555.0,362.3 555.3,362.6 555.6,359.7 555.9,356.1 556.0,339.0 556.2,358.1 556.3,361.5 556.6,355.2 556.9,359.9 557.3,361.4 557.6,352.1 557.9,356.6 558.0,336.2 558.2,356.5 558.3,360.6 558.6,350.1 558.9,355.1 559.2,350.5 559.6,363.1 559.7,337.7 559.8,354.4 559.9,368.5 560.2,358.1 560.6,359.5 560.9,361.3 561.2,356.1 561.3,339.0 561.5,356.6 561.6,361.5 561.9,358.5 562.2,370.4 562.5,356.2 562.9,358.7 563.0,341.3 563.1,367.4 563.2,348.1 563.5,357.8 563.9,364.2 564.2,360.0 564.5,368.9 564.6,338.9 564.8,362.6 564.9,352.6 565.2,359.9 565.5,348.4 565.6,337.6 565.8,356.9 565.8,363.4 566.2,361.5 566.5,360.3 566.8,350.4 566.9,337.8 567.1,365.2 567.2,356.2 567.5,363.2 567.8,355.5 568.2,356.5 568.5,364.0 568.6,335.3 568.7,364.4 568.8,354.1 569.1,365.1 569.5,370.2 569.8,360.4 569.9,337.0 570.1,357.1 570.1,363.8 570.5,351.5 570.8,352.3 570.9,336.9 571.0,354.5 571.1,353.4" stroke="#1616f2" stroke-width="0.71" fill="none" stroke-linejoin="round"/>
<path d="M571.1,353.4L571.5,350.7 571.6,336.0 571.8,351.8 572.0,335.4 572.1,353.4 572.3,337.3 572.4,352.4 572.6,335.4 572.8,351.6 572.9,336.7 573.1,352.9 573.3,336.1 573.4,351.3 573.6,335.6 573.8,353.6 573.9,336.4 574.1,351.6 574.3,335.4 574.4,350.6 574.6,336.0 574.8,353.2 574.9,336.1 575.1,352.2 575.3,335.7 575.4,353.1 575.6,335.7 575.7,352.5 575.9,335.8 576.1,353.7 576.2,335.8 576.4,352.8 576.6,335.9 576.7,348.2 576.9,335.5 577.1,354.0 577.2,335.7 577.4,352.4 577.6,335.6 577.7,354.2 577.9,336.9 578.1,353.3 578.2,335.5 578.4,352.5 578.6,336.2 578.7,352.6 578.9,335.7 579.0,352.5 579.2,335.7 579.4,353.9 579.5,335.1 579.7,352.9 579.9,335.6 580.0,354.4 580.2,335.0 580.4,354.6 580.5,336.4 580.7,355.0 580.9,335.1 581.0,352.6 581.2,335.8 581.4,354.6 581.5,335.2 581.7,354.8 581.9,335.5 582.0,351.9 582.2,335.7 582.3,355.0 582.5,335.7 582.7,354.4 582.8,335.8 583.0,354.7 583.2,335.5 583.3,354.3 583.5,335.4 583.7,355.4 583.8,335.1 584.0,354.2 584.2,335.0 584.3,355.6 584.5,334.9 584.7,352.6 584.8,335.3 585.0,354.4 585.2,335.3 585.3,355.1 585.5,335.2 585.6,355.7 585.8,335.7 586.0,355.3 586.1,335.1 586.3,355.8 586.5,334.9 586.6,355.7 586.8,337.0 587.0,355.4 587.1,336.2 587.3,352.9 587.5,335.5 587.6,352.6 587.8,335.4 588.0,355.5 588.1,335.1 588.3,356.7 588.5,335.8 588.6,355.8 588.8,335.1 588.9,355.0 589.1,337.0 589.3,354.2 589.4,336.3 589.6,356.0 589.8,336.0 589.9,356.4 590.1,336.0 590.3,353.7 590.4,336.3 590.6,355.2 590.8,336.4 590.9,354.7 591.1,335.9 591.3,355.8 591.4,335.8 591.6,353.5 591.8,337.1 591.9,356.0 592.1,335.6 592.2,357.5 592.4,336.9 592.6,356.6 592.7,336.0 592.9,357.6 593.1,335.6 593.2,358.1 593.4,336.1 593.6,357.5 593.7,337.4 593.9,356.8 594.1,336.6 594.2,357.0 594.4,338.0 594.6,358.1 594.7,337.2 594.9,352.6 595.1,336.0 595.2,357.7 595.4,337.0 595.5,356.3 595.7,336.1 595.9,355.1 596.0,337.1 596.2,357.6 596.4,336.0 596.5,357.5 596.7,336.1 596.9,355.5 597.0,336.4 597.2,358.5 597.4,337.1 597.5,358.1 597.7,336.7 597.9,357.6 598.0,337.4 598.2,359.7 598.4,337.4 598.5,356.5 598.7,337.2 598.8,358.6 599.0,337.6 599.2,357.7 599.3,336.2 599.5,359.0 599.7,337.1 599.8,359.8 600.0,337.8 600.2,358.0 600.3,338.2 600.5,359.8 600.7,337.3" stroke="#1616f2" stroke-width="0.75" fill="none" stroke-linejoin="round"/>
<path d="M451.0,348.9L451.3,350.2 451.7,351.4 452.0,348.7 452.3,351.3 452.7,352.4 453.0,350.7 453.3,350.3 453.6,350.6 454.0,353.4 454.3,349.1 454.6,350.4 455.0,349.5 455.3,351.3 455.6,350.6 456.0,349.8 456.3,348.7 456.6,345.4 456.9,347.6 457.3,347.3 457.6,345.4 457.9,345.6 458.3,346.9 458.6,349.0 458.9,351.0 459.3,352.2 459.6,350.2 459.9,351.0 460.2,349.5 460.6,348.4 460.9,351.9 461.2,352.1 461.6,352.1 461.9,355.1 462.2,352.9 462.6,352.1 462.9,350.1 463.2,355.7 463.5,353.1 463.9,352.4 464.2,356.2 464.5,355.3 464.9,353.5 465.2,356.4 465.5,356.3 465.9,355.7 466.2,354.7 466.5,356.1 466.8,357.6 467.2,356.6 467.5,359.1 467.8,360.0 468.2,359.1 468.5,359.4 468.8,359.4 469.2,359.5 469.5,360.6 469.8,362.6 470.1,362.6 470.5,360.9 470.8,359.6 471.1,361.2 471.5,359.9 471.8,357.6 472.1,359.2 472.5,355.8 472.8,356.4 473.1,355.3 473.3,354.2 473.4,300.0 473.6,354.8 473.4,352.1 473.8,353.6 474.1,352.0 474.4,350.3 474.8,347.5 475.1,349.4 475.4,348.4 475.8,348.8 476.1,348.5 476.4,351.3 476.7,350.7 477.1,350.5 477.4,349.3 477.7,352.1 478.1,351.7 478.4,352.3 478.7,357.1 479.1,352.9 479.4,353.4 479.7,355.0 480.0,354.8 480.4,354.2 480.7,354.0 481.0,354.5 481.4,355.3 481.7,354.8 482.0,353.9 482.4,355.4 482.7,353.8 483.0,353.6 483.3,354.4 483.7,356.6 484.0,356.4 484.3,359.8 484.7,356.9 485.0,357.3 485.3,358.2 485.7,360.3 486.0,356.3 486.3,356.2 486.6,358.1 487.0,356.9 487.3,358.6 487.6,361.0 488.0,358.7 488.3,359.4 488.6,359.3 489.0,359.3 489.0,359.1 489.1,315.9 489.3,361.3 489.3,358.0 489.6,359.3 489.9,359.1 490.3,361.3 490.6,363.5 490.9,362.2 491.3,358.7 491.6,359.9 491.9,363.4 492.3,361.9 492.6,362.7 492.9,361.2 493.2,359.1 493.6,362.4 493.9,361.2 494.2,362.3 494.6,363.1 494.9,364.4 495.2,363.7 495.6,361.0 495.9,361.3 496.2,360.8 496.5,364.2 496.9,364.1 497.2,362.4 497.5,363.2 497.9,364.9 498.2,364.1 498.2,363.1 498.3,319.3 498.5,363.4 498.5,361.8 498.9,361.0 499.2,363.5 499.5,359.3 499.8,362.7 500.2,361.7 500.5,364.5 500.8,362.0 501.2,363.8 501.5,362.4 501.8,365.3 502.2,365.3 502.5,364.3 502.8,362.6 503.1,367.3 503.5,364.2 503.8,364.7 504.1,362.1 504.5,369.8 504.8,365.0 504.9,329.0 505.1,363.0 504.8,364.0 505.1,363.7 505.5,364.9 505.8,364.3 506.1,364.1 506.4,363.2 506.8,368.1 507.1,367.2 507.4,363.0 507.8,363.1 508.1,367.8 508.4,361.9 508.8,364.6 509.1,363.9 509.4,366.5 509.7,368.0 509.8,366.4 509.9,332.4 510.1,366.3 510.1,368.7 510.4,366.2 510.7,366.4 511.1,370.3 511.4,368.5 511.7,367.1 512.1,368.7 512.4,365.5 512.7,364.5 513.0,369.6 513.4,366.8 513.7,366.5 514.0,367.6 514.1,337.7 514.3,370.9 514.0,369.8 514.4,366.8 514.7,365.2 515.0,367.2 515.4,369.9 515.7,367.0 516.0,369.8 516.3,371.5 516.7,368.0 517.0,366.4 517.3,366.3 517.5,368.7 517.6,345.0 517.8,370.2 517.7,371.3 518.0,367.3 518.3,371.0 518.7,368.4 519.0,368.2 519.3,370.6 519.6,369.6 520.0,369.4 520.3,367.7 520.5,369.3 520.6,342.5 520.8,369.5 520.6,368.8 521.0,372.0 521.3,370.4 521.6,370.6 522.0,369.1 522.3,372.0 522.6,369.7 522.9,368.9 523.2,369.7 523.3,338.8 523.5,369.5 523.3,366.3 523.6,368.7 523.9,368.2 524.3,371.3 524.6,371.1 524.9,368.8 525.3,371.3 525.6,370.1 525.7,337.6 525.9,369.6 525.6,364.1 525.9,371.2 526.2,368.5 526.6,368.7 526.9,369.4 527.2,368.9 527.6,374.4 527.8,369.8 527.9,339.4 528.1,367.4 527.9,369.9 528.2,372.6 528.6,370.5 528.9,369.6 529.2,367.7 529.5,371.0 529.7,369.6 529.8,337.8 530.0,371.2 529.9,367.5 530.2,369.0 530.5,364.5 530.9,368.0 531.2,366.8 531.5,370.1 531.5,369.5 531.6,341.8 531.8,369.4 531.9,369.2 532.2,370.9 532.5,369.4 532.8,373.4 533.2,369.9 533.2,369.3 533.3,339.8 533.5,366.3 533.5,369.2 533.8,369.2 534.2,369.3 534.5,373.5 534.8,369.1 534.9,340.2 535.1,366.5 534.8,368.0 535.2,372.2 535.5,368.6 535.8,369.9 536.1,368.0 536.3,368.7 536.4,338.6 536.6,369.0 536.5,371.8 536.8,369.5 537.1,370.6 537.5,369.2 537.6,368.3 537.7,337.4 537.9,367.7 537.8,367.3 538.1,366.7 538.5,370.9 538.8,368.8 538.9,368.0 539.0,337.1 539.2,365.6 539.1,373.0 539.4,370.3 539.8,367.2 540.1,361.2 540.2,367.6 540.3,339.3 540.5,368.3 540.4,367.4 540.8,365.8 541.1,370.7 541.3,367.3 541.4,339.1 541.6,369.3 541.4,369.9" stroke="#c8284c" stroke-width="0.90" fill="none" stroke-linejoin="round"/>
<path d="M541.1,370.7L541.3,367.3 541.4,339.1 541.6,369.3 541.4,369.9 541.8,369.3 542.1,365.7 542.4,363.1 542.4,366.7 542.5,337.4 542.7,366.3 542.7,367.1 543.1,368.9 543.4,370.6 543.5,366.1 543.6,339.9 543.8,362.9 543.7,362.5 544.1,364.4 544.2,339.4 544.3,366.0 544.4,367.3 544.7,368.7 545.1,370.0 545.4,365.0 545.7,368.3 545.8,344.4 546.0,366.6 546.0,362.5 546.4,360.2 546.7,362.8 547.0,361.7 547.4,358.2 547.7,368.4 547.8,342.7 547.9,364.2 548.0,363.3 548.4,360.4 548.7,364.0 549.0,369.4 549.1,333.4 549.3,367.2 549.3,360.2 549.7,369.0 550.0,367.3 550.3,363.3 550.7,365.9 551.0,362.7 551.1,337.3 551.2,362.9 551.3,361.3 551.7,362.0 552.0,353.6 552.3,365.9 552.6,358.5 553.0,363.5 553.1,338.9 553.2,369.1 553.3,366.6 553.6,368.0 554.0,364.5 554.3,357.4 554.6,367.6 554.7,336.8 554.9,362.8 555.0,366.8 555.3,361.5 555.6,357.4 555.9,363.9 556.3,361.6 556.6,361.9 556.7,341.1 556.9,365.1 556.9,359.1 557.3,363.9 557.6,357.7 557.9,364.3 558.3,361.1 558.4,344.1 558.5,367.6 558.6,355.6 558.9,360.7 559.2,357.4 559.6,355.2 559.9,359.6 560.0,342.3 560.2,360.4 560.2,358.9 560.6,362.4 560.9,356.0 561.2,356.7 561.3,340.0 561.5,359.9 561.6,360.3 561.9,359.5 562.2,356.9 562.5,362.1 562.9,361.1 563.0,341.2 563.1,367.1 563.2,360.8 563.5,354.9 563.9,366.2 564.2,366.4 564.5,360.7 564.6,340.7 564.8,356.3 564.9,355.0 565.2,359.1 565.5,351.1 565.8,356.5 566.2,364.9 566.5,361.7 566.6,343.0 566.8,359.5 566.8,358.2 567.2,354.9 567.5,363.9 567.8,360.9 568.2,353.0 568.5,353.0 568.8,352.5 568.9,340.7 569.1,354.5 569.1,364.0 569.5,360.7 569.8,356.1 570.1,358.1 570.2,343.7 570.4,361.7 570.5,357.6 570.8,360.1 571.1,353.2" stroke="#e02840" stroke-width="0.75" fill="none" stroke-linejoin="round"/>
<path d="M571.1,353.2L571.5,353.5 571.6,344.2 571.8,354.9 572.0,343.6 572.1,355.0 572.3,346.3 572.4,350.1 572.6,344.4 572.8,355.2 572.9,344.4 573.1,356.1 573.3,344.2 573.4,355.3 573.6,344.7 573.8,355.7 573.9,344.0 574.1,355.9 574.3,344.6 574.4,352.5 574.6,343.9 574.8,356.0 574.9,343.7 575.1,356.8 575.3,345.2 575.4,358.4 575.6,346.6 575.7,358.0 575.9,345.6 576.1,359.1 576.2,344.7 576.4,358.2 576.6,343.7 576.7,357.7 576.9,345.1 577.1,358.6 577.2,346.7 577.4,360.0 577.6,343.8 577.7,361.0 577.9,345.5 578.1,357.3 578.2,344.2 578.4,360.8 578.6,344.8 578.7,359.8 578.9,346.8 579.0,359.6 579.2,344.2 579.4,360.5 579.5,344.7 579.7,360.7 579.9,346.2 580.0,358.7 580.2,343.8 580.4,361.7 580.5,345.3 580.7,361.0 580.9,345.2 581.0,361.8 581.2,345.5 581.4,361.9 581.5,344.2 581.7,361.4 581.9,343.6 582.0,360.6 582.2,344.2 582.3,361.5 582.5,343.6 582.7,363.6 582.8,344.8 583.0,362.3 583.2,345.2 583.3,363.5 583.5,343.6 583.7,363.0 583.8,345.3 584.0,364.0 584.2,345.7 584.3,361.7 584.5,346.0 584.7,362.4 584.8,344.0 585.0,364.4 585.2,343.7 585.3,361.9 585.5,343.9 585.6,364.7 585.8,344.4 586.0,360.9 586.1,344.0 586.3,361.3 586.5,344.8 586.6,363.9 586.8,344.6 587.0,365.0 587.1,344.5 587.3,363.8 587.5,344.3 587.6,365.3 587.8,344.6 588.0,365.1 588.1,344.2 588.3,364.7 588.5,345.3 588.6,363.3 588.8,345.0 588.9,364.9 589.1,345.7 589.3,362.5 589.4,344.1 589.6,363.0 589.8,345.1 589.9,364.3 590.1,344.5 590.3,362.7 590.4,344.5 590.6,364.2 590.8,345.5 590.9,360.1 591.1,343.8 591.3,364.1 591.4,345.9 591.6,361.3 591.8,344.9 591.9,362.0 592.1,343.7 592.2,362.7 592.4,344.9 592.6,362.0 592.7,344.3 592.9,364.1 593.1,344.4 593.2,363.4 593.4,343.7 593.6,359.0 593.7,345.0 593.9,362.8 594.1,344.2 594.2,363.5 594.4,344.6 594.6,360.6 594.7,344.9 594.9,360.9 595.1,343.9 595.2,360.0 595.4,344.4 595.5,360.1 595.7,344.3 595.9,361.9 596.0,344.5 596.2,361.5 596.4,343.7 596.5,361.4 596.7,343.8 596.9,362.5 597.0,343.9 597.2,362.4 597.4,344.5 597.5,360.8 597.7,345.4 597.9,359.3 598.0,345.6 598.2,362.2 598.4,344.7 598.5,359.8 598.7,343.9 598.8,359.6 599.0,345.4 599.2,361.3 599.3,343.9 599.5,359.1 599.7,344.2 599.8,360.9 600.0,344.2 600.2,361.7 600.3,343.7 600.5,361.8 600.7,344.5" stroke="#e82838" stroke-width="0.75" fill="none" stroke-linejoin="round"/>
<path d="M451.0,361.5L451.3,361.8 451.7,360.7 452.0,362.5 452.3,359.9 452.7,362.4 453.0,360.3 453.3,362.1 453.6,363.0 454.0,362.8 454.3,361.8 454.6,362.1 455.0,362.0 455.3,362.6 455.6,363.3 456.0,363.8 456.3,364.1 456.6,363.6 456.9,365.7 457.3,363.2 457.6,363.5 457.9,363.8 458.3,364.8 458.6,363.8 458.9,363.1 459.3,365.2 459.6,365.2 459.9,364.5 460.2,363.9 460.6,365.6 460.9,363.5 461.2,366.7 461.6,362.4 461.9,366.2 462.2,365.8 462.6,365.4 462.9,366.3 463.2,365.0 463.5,365.7 463.9,363.1 464.2,364.9 464.5,364.0 464.9,365.0 465.2,363.8 465.5,364.7 465.9,366.9 466.2,365.8 466.5,364.9 466.8,364.9" stroke="#4a554a" stroke-width="0.60" fill="none" stroke-linejoin="round"/>
<path d="M466.5,364.9L466.8,364.9 467.2,368.0 467.5,366.7 467.8,367.6 468.2,367.5 468.5,365.6 468.8,365.7 469.2,368.6 469.5,367.4 469.8,364.8 470.1,364.6 470.5,365.1 470.8,367.5 471.1,366.0 471.5,364.9 471.8,366.4 472.1,366.8 472.5,367.2 472.8,366.1 473.1,365.4 473.4,364.4 473.8,366.7 474.1,366.6 474.4,368.5 474.8,365.4 475.1,367.6 475.4,365.2 475.8,367.8 476.1,367.1 476.4,366.2 476.7,366.8 477.1,369.9 477.4,367.5 477.7,367.0 478.1,364.3 478.4,365.7 478.7,365.4 479.1,366.5 479.4,365.6 479.7,367.3 480.0,369.0 480.4,368.3 480.7,367.0 481.0,368.3 481.4,367.7 481.7,367.9 482.0,366.0 482.4,370.9 482.7,369.4 483.0,367.7 483.3,368.2 483.7,365.5 484.0,366.8 484.3,367.7 484.7,368.7 485.0,367.9 485.3,368.3 485.7,370.0 486.0,369.2 486.3,367.5 486.6,367.8 487.0,368.2 487.3,366.3 487.6,369.5 488.0,368.8 488.3,367.5 488.6,367.0 489.0,369.4 489.3,368.1 489.6,369.0 489.9,369.8 490.3,368.6 490.6,369.5 490.9,367.6 491.3,368.3 491.6,369.1 491.9,367.4 492.3,367.2 492.6,369.7 492.9,370.9 493.2,369.9 493.6,368.9 493.9,371.9 494.2,371.7 494.6,367.8 494.9,369.2 495.2,368.7 495.6,369.2 495.9,370.0 496.2,369.0 496.5,369.7 496.9,368.2 497.2,369.5 497.5,369.2 497.9,369.8 498.2,371.0 498.5,370.5 498.9,368.9 499.2,370.8 499.5,369.8 499.8,370.5 500.2,370.3 500.5,368.3 500.8,371.4 501.2,371.2 501.5,371.1 501.8,368.6 502.2,369.5 502.5,372.0 502.8,371.3 503.1,370.6 503.5,370.7 503.8,371.1 504.1,369.3 504.5,371.5 504.8,370.0 505.1,370.5 505.5,370.7 505.8,372.7 506.1,371.7 506.4,369.1 506.8,370.1 507.1,372.5 507.4,370.4 507.8,372.8 508.1,369.9 508.4,371.7 508.8,368.9 509.1,369.4 509.4,370.0 509.7,372.3 510.1,371.0 510.4,372.2 510.7,371.7 511.1,372.1 511.4,371.4 511.7,370.5 512.1,370.3 512.4,373.8 512.7,372.5 513.0,372.8 513.4,370.2 513.7,372.6 514.0,370.7 514.4,371.3 514.7,370.5 515.0,371.9 515.4,372.2 515.7,370.6 516.0,370.3 516.3,371.8 516.7,372.1 517.0,372.3 517.3,372.0 517.7,370.6 518.0,372.7 518.3,370.3 518.7,373.4 519.0,371.7 519.3,372.9 519.6,371.5 520.0,369.1 520.3,372.8 520.6,370.6 521.0,373.6 521.3,371.5 521.6,369.2 522.0,371.7 522.3,374.0 522.6,372.7 522.9,372.0 523.3,373.5 523.6,370.3 523.9,371.3 524.3,373.2 524.6,371.4 524.9,371.9 525.3,374.4 525.6,370.4 525.9,371.1 526.2,374.8 526.6,370.9 526.9,372.6 527.2,371.6 527.6,372.6 527.9,374.1 528.2,372.5 528.6,370.8 528.9,374.9 529.2,372.8 529.5,373.6 529.9,372.1 530.2,374.4 530.5,372.3 530.9,373.2 531.2,372.1 531.5,372.9 531.9,374.1 532.2,373.0 532.5,372.5 532.8,372.7 533.2,371.1 533.5,373.3 533.8,372.5 534.2,371.9 534.5,371.1 534.8,373.6 535.2,373.5 535.5,373.3 535.8,374.2 536.1,374.5 536.5,372.0 536.8,372.4 537.1,371.7 537.5,371.4 537.8,374.0 538.1,373.4 538.5,374.1 538.8,373.5 539.1,371.6 539.4,374.8 539.8,371.7 540.1,374.1 540.4,372.7 540.8,370.9 541.1,371.9 541.4,375.0 541.8,373.2 542.1,371.9 542.4,375.0 542.7,375.0 543.1,373.3 543.4,375.1 543.7,375.1 544.1,373.7 544.4,372.2 544.7,373.2 545.1,372.3 545.4,373.2 545.7,373.3 546.0,372.7 546.4,374.3 546.7,373.9 547.0,373.9 547.4,374.1 547.7,374.9 548.0,374.1 548.4,374.1 548.7,372.5 549.0,374.6 549.3,372.7 549.7,374.4 550.0,371.6 550.3,374.9 550.7,377.4 551.0,372.9 551.3,373.1 551.7,373.2 552.0,371.9 552.3,372.3 552.6,374.3 553.0,374.7 553.3,373.5 553.6,374.5 554.0,374.3 554.3,374.3 554.6,372.5 555.0,372.4 555.3,373.5 555.6,372.5 555.9,374.5 556.3,373.8 556.6,372.8 556.9,374.4 557.3,372.0 557.6,373.9 557.9,373.5 558.3,372.7 558.6,375.4 558.9,373.1 559.2,374.1 559.6,375.7 559.9,374.1 560.2,372.9 560.6,376.3 560.9,373.3 561.2,376.2 561.6,374.6 561.9,374.0 562.2,371.8 562.5,373.5 562.9,373.5 563.2,373.0 563.5,372.7 563.9,373.7 564.2,373.5 564.5,373.2 564.9,374.2 565.2,372.5 565.5,373.1 565.8,372.7 566.2,372.5 566.5,374.6 566.8,374.1 567.2,373.3 567.5,374.1 567.8,374.1 568.2,374.0 568.5,373.9 568.8,372.7 569.1,376.2 569.5,372.9 569.8,375.0 570.1,371.7 570.5,373.3 570.8,372.6 571.1,373.0" stroke="#3a3d3a" stroke-width="0.75" fill="none" stroke-linejoin="round"/>
<path d="M571.1,373.0L571.5,386.3 571.6,382.5 571.8,386.4 572.0,383.2 572.1,385.9 572.3,382.3 572.4,386.0 572.6,382.1 572.8,386.2 572.9,382.9 573.1,385.2 573.3,382.9 573.4,385.6 573.6,382.9 573.8,385.7 573.9,383.8 574.1,385.1 574.3,382.5 574.4,385.2 574.6,382.1 574.8,385.8 574.9,382.1 575.1,385.8 575.3,382.1 575.4,386.0 575.6,381.9 575.7,385.5 575.9,382.1 576.1,384.8 576.2,382.2 576.4,385.7 576.6,383.0 576.7,383.6 576.9,381.6 577.1,385.2 577.2,382.8 577.4,385.0 577.6,383.3 577.7,385.7 577.9,383.0 578.1,383.9 578.2,381.9 578.4,385.1 578.6,382.0 578.7,385.7 578.9,383.5 579.0,385.9 579.2,382.9 579.4,385.3 579.5,381.6 579.7,385.0 579.9,381.9 580.0,384.5 580.2,382.4 580.4,385.1 580.5,381.5 580.7,385.4 580.9,381.5 581.0,384.9 581.2,382.7 581.4,384.6 581.5,383.1 581.7,385.1 581.9,381.5 582.0,385.3 582.2,381.4 582.3,383.7 582.5,381.5 582.7,385.0 582.8,381.4 583.0,384.9 583.2,381.4 583.3,385.0 583.5,382.2 583.7,383.0 583.8,382.0 584.0,384.0 584.2,381.1 584.3,384.7 584.5,382.1 584.7,384.5 584.8,382.3 585.0,384.6 585.2,382.0 585.3,384.9 585.5,382.2 585.6,384.9 585.8,381.0 586.0,384.6 586.1,381.1 586.3,384.9 586.5,381.9 586.6,384.8 586.8,383.2 587.0,385.5 587.1,381.7 587.3,384.3 587.5,382.7 587.6,385.1 587.8,382.0 588.0,383.8 588.1,381.9 588.3,384.0 588.5,382.1 588.6,384.5 588.8,380.9 588.9,383.6 589.1,383.1 589.3,383.8 589.4,381.7 589.6,384.3 589.8,380.8 589.9,383.9 590.1,380.9 590.3,384.7 590.4,383.3 590.6,383.0 590.8,381.2 590.9,384.8 591.1,380.9 591.3,383.3 591.4,381.6 591.6,385.0 591.8,381.0 591.9,385.1 592.1,381.7 592.2,384.3 592.4,381.0 592.6,384.4 592.7,380.6 592.9,383.9 593.1,381.2 593.2,383.5 593.4,381.0 593.6,385.0 593.7,380.9 593.9,384.0 594.1,380.4 594.2,384.5 594.4,380.8 594.6,384.2 594.7,380.6 594.9,383.7 595.1,381.3 595.2,383.4 595.4,380.6 595.5,383.7 595.7,381.4 595.9,384.2 596.0,381.0 596.2,384.6 596.4,381.2 596.5,383.9 596.7,380.8 596.9,384.2 597.0,382.4 597.2,382.4 597.4,380.4 597.5,384.2 597.7,382.2 597.9,383.8 598.0,380.7 598.2,384.5 598.4,381.7 598.5,383.6 598.7,380.5 598.8,384.3 599.0,381.1 599.2,383.7 599.3,380.4 599.5,383.7 599.7,381.2 599.8,383.2 600.0,380.5 600.2,383.3 600.3,380.9 600.5,382.5 600.7,381.0" stroke="#454545" stroke-width="0.52" fill="none" stroke-linejoin="round"/>
<path d="M451.0,317.9H466.8" stroke="#b05090" stroke-width="1.2" fill="none"/>
<path d="M479.7,334.8H507.5" stroke="#8a3070" stroke-width="1.2" fill="none"/>
<path d="M571.7,345.4H594.9" stroke="#9040a0" stroke-width="1.2" fill="none"/>
<path d="M587.8,350.8H598.7" stroke="#9040a0" stroke-width="1.2" fill="none"/>
<text x="436.3" y="302.2" font-size="7.00" fill="#111" font-weight="bold" text-anchor="end">80</text>
<text x="436.3" y="320.5" font-size="7.00" fill="#111" font-weight="bold" text-anchor="end">60</text>
<text x="436.3" y="338.8" font-size="7.00" fill="#111" font-weight="bold" text-anchor="end">40</text>
<text x="436.3" y="357.1" font-size="7.00" fill="#111" font-weight="bold" text-anchor="end">20</text>
<text x="436.3" y="375.4" font-size="7.00" fill="#111" font-weight="bold" text-anchor="end">0</text>
<text x="436.3" y="393.7" font-size="7.00" fill="#111" font-weight="bold" text-anchor="end">-20</text>
<text x="441.0" y="402.8" font-size="7.00" fill="#111" font-weight="bold" text-anchor="middle" textLength="8.4" lengthAdjust="spacingAndGlyphs">0.1</text>
<text x="494.4" y="402.8" font-size="7.00" fill="#111" font-weight="bold" text-anchor="middle">1</text>
<text x="546.7" y="402.8" font-size="7.00" fill="#111" font-weight="bold" text-anchor="middle">10</text>
<text x="599.0" y="402.8" font-size="7.00" fill="#111" font-weight="bold" text-anchor="middle">100</text>
<text x="522.0" y="410.7" font-size="6.63" fill="#111" font-weight="bold" text-anchor="middle" textLength="47.9" lengthAdjust="spacingAndGlyphs">Frequency[MHz]</text>
<text transform="translate(425.2,344.4) rotate(-90)" x="0" y="0" font-size="6.89" font-weight="bold" fill="#111" text-anchor="middle" textLength="61.9" lengthAdjust="spacingAndGlyphs">Noise Level[dBuV/m]</text>
<rect x="517.6" y="297.9" width="107.5" height="33.3" fill="#fff" stroke="#3a3a3a" stroke-width="1"/>
<path d="M524.0,304.9H538.1" stroke="#111" stroke-width="3.20"/>
<text x="541.5" y="307.8" font-size="9.60" fill="#111">Floor</text>
<path d="M524.0,314.2H538.1" stroke="#1010c8" stroke-width="3.20"/>
<text x="541.5" y="317.1" font-size="9.60" fill="#1010c8" textLength="81.8" lengthAdjust="spacingAndGlyphs">Without measures</text>
<path d="M524.0,323.6H538.1" stroke="#e01828" stroke-width="3.20"/>
<text x="541.5" y="326.5" font-size="9.60" fill="#e01828" textLength="30.3" lengthAdjust="spacingAndGlyphs">PLT5BP</text>
<text x="431.0" y="430.5" font-size="12.1" fill="#1a1a1a" textLength="155.2" lengthAdjust="spacingAndGlyphs">Use of a CMCC with higher</text>
<text x="431.0" y="444.6" font-size="12.1" fill="#1a1a1a" textLength="183.3" lengthAdjust="spacingAndGlyphs">performance than a ferrite core</text>
<text x="431.0" y="458.7" font-size="12.1" fill="#1a1a1a" textLength="168.6" lengthAdjust="spacingAndGlyphs">successfully reduced noise at</text>
<text x="431.0" y="472.9" font-size="12.1" fill="#1a1a1a" textLength="177.3" lengthAdjust="spacingAndGlyphs">10 MHz or more, so it appears</text>
<text x="431.0" y="487.0" font-size="12.1" fill="#1a1a1a" textLength="184.6" lengthAdjust="spacingAndGlyphs">that some common mode noise</text>
<text x="431.0" y="501.1" font-size="12.1" fill="#1a1a1a" textLength="115.8" lengthAdjust="spacingAndGlyphs">was also generated.</text>
<text x="40.6" y="392.8" font-size="16.3" fill="#e0282c" textLength="304.4" lengthAdjust="spacingAndGlyphs">The above measures to suppress noise</text>
<text x="40.6" y="412.2" font-size="16.3" fill="#e0282c" textLength="325.3" lengthAdjust="spacingAndGlyphs">successfully reduced conducted noise and</text>
<text x="40.6" y="431.5" font-size="16.3" fill="#e0282c" textLength="306.0" lengthAdjust="spacingAndGlyphs">made it possible to satisfy the CISPR25</text>
<text x="40.6" y="450.9" font-size="16.3" fill="#e0282c" textLength="134.0" lengthAdjust="spacingAndGlyphs">Class 5 standard.</text>
<path d="M8.4,382.2 H18.6 V377.6 L27.6,386.5 L18.6,395.6 V391.2 H8.4 Z" fill="#fae2e4" stroke="#1e1e1e" stroke-width="1.15" stroke-linejoin="miter"/>
</svg></body></html>
